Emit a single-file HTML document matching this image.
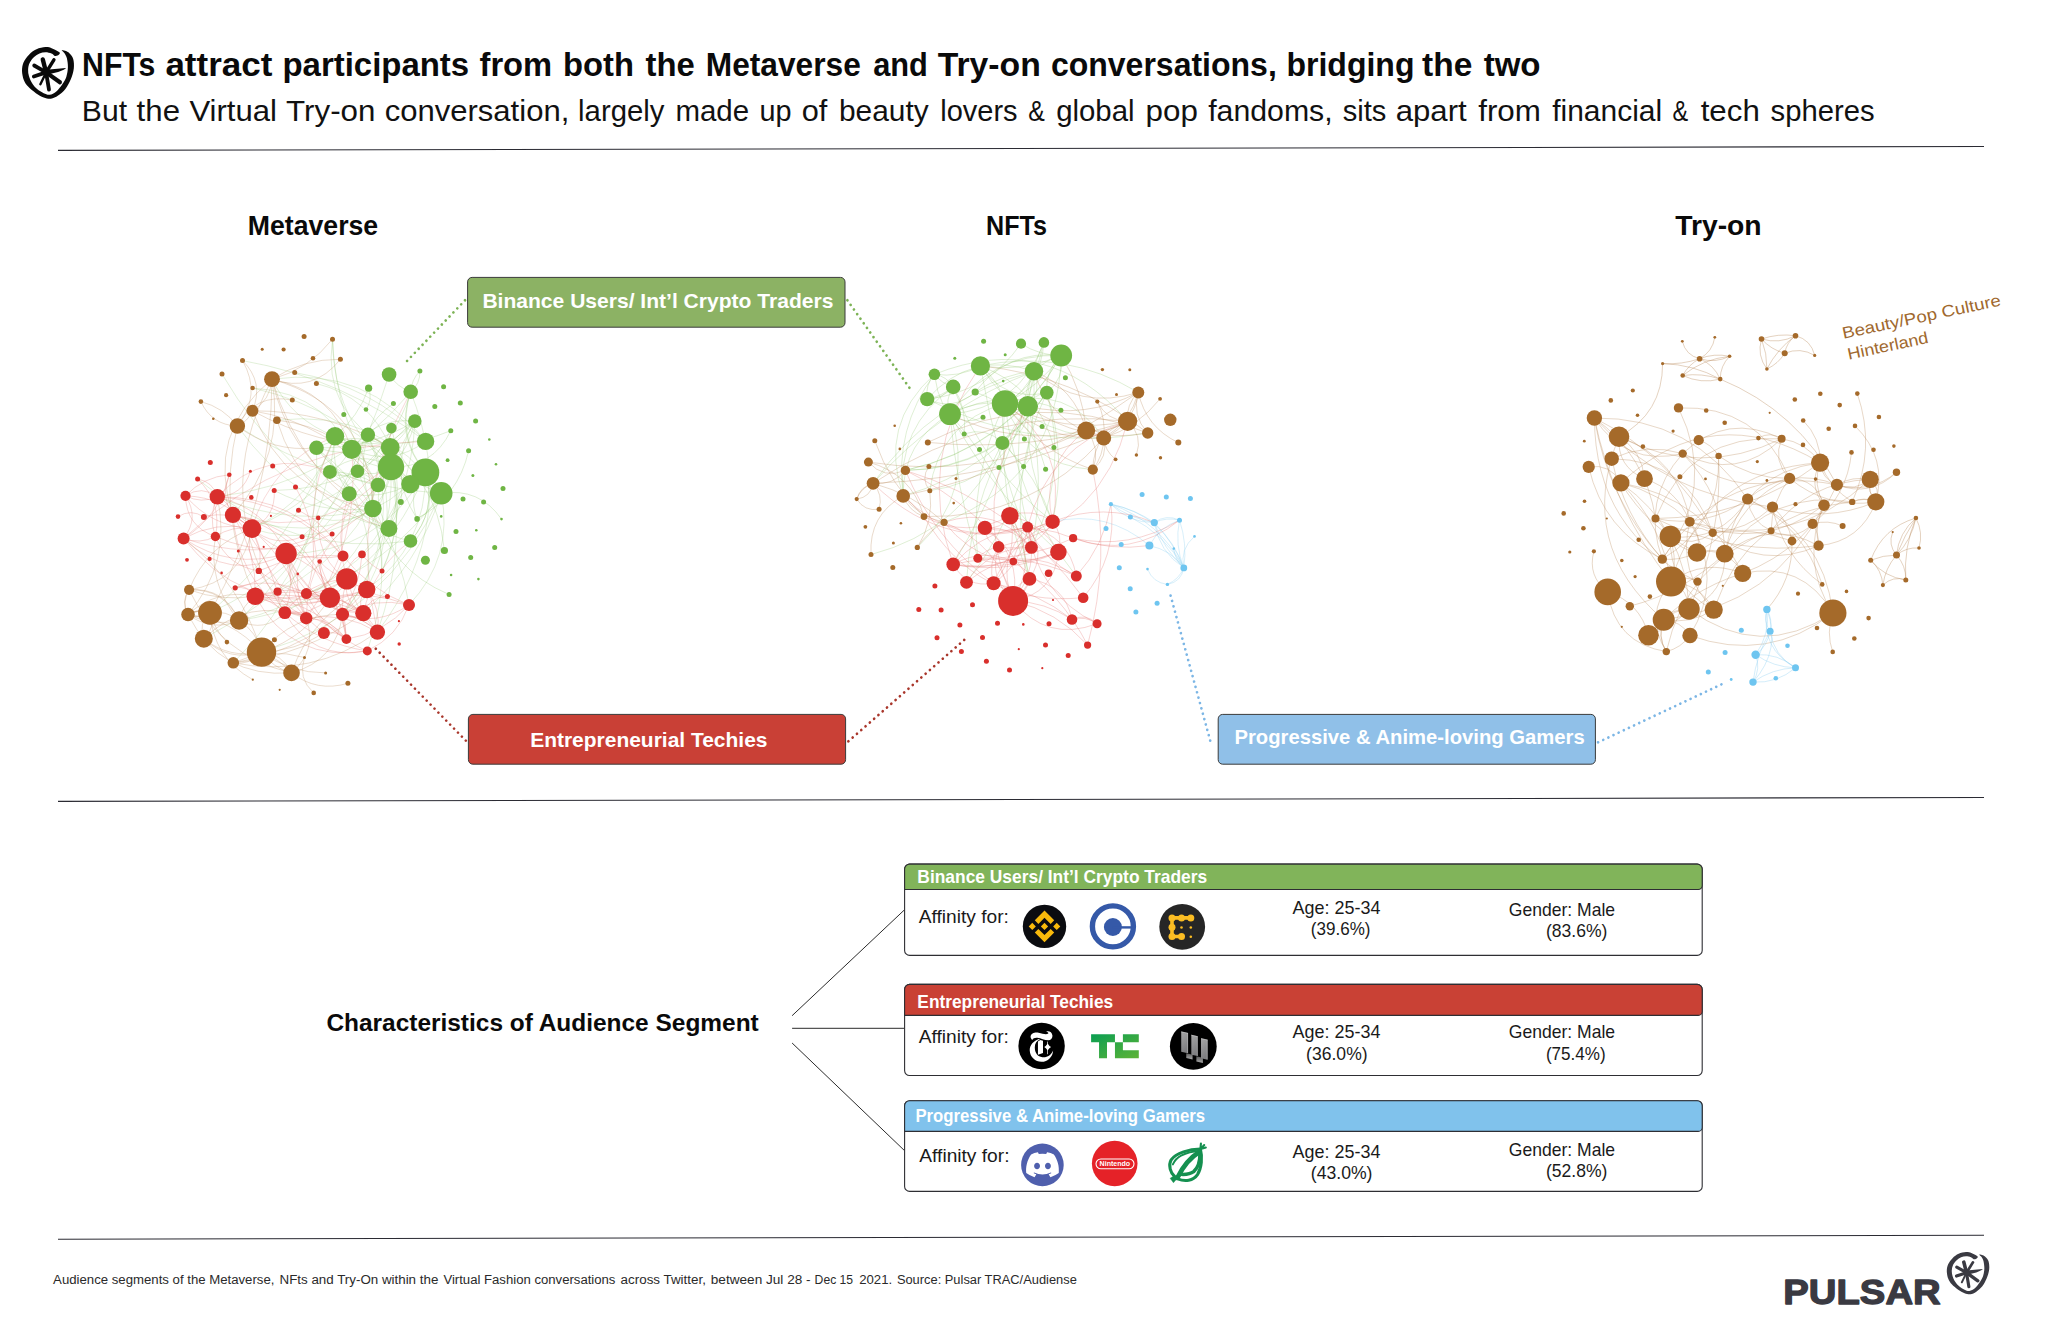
<!DOCTYPE html>
<html lang="en"><head><meta charset="utf-8"><title>NFTs attract participants from both the Metaverse and Try-on conversations</title>
<style>
html,body{margin:0;padding:0;background:#fff;}
body{width:2048px;height:1330px;font-family:"Liberation Sans",sans-serif;}
svg{display:block;font-family:"Liberation Sans",sans-serif;}
</style></head><body>
<svg width="2048" height="1330" viewBox="0 0 2048 1330">
<rect width="2048" height="1330" fill="#fff"/>
<g><path d="M59.0,52.0C57.8,51.1 54.4,49.2 52.1,48.4C49.9,47.5 48.1,47.0 45.5,47.1C42.9,47.3 39.2,48.0 36.5,49.3C33.7,50.5 31.1,52.5 29.0,54.7C26.8,56.9 24.7,59.8 23.5,62.5C22.4,65.2 22.0,68.0 22.0,70.9C22.1,73.8 22.8,77.3 23.8,79.9C24.8,82.5 26.0,84.4 28.1,86.6C30.1,88.8 33.3,91.4 35.9,93.2C38.5,95.0 41.2,96.5 43.7,97.4C46.2,98.3 48.5,99.1 50.9,98.8C53.3,98.5 55.7,97.2 58.1,95.6C60.5,93.9 63.2,91.7 65.4,89.0C67.5,86.3 69.4,82.7 70.8,79.3C72.2,75.9 73.4,71.9 73.8,68.5C74.2,65.1 73.9,61.4 73.2,58.9C72.5,56.4 70.8,54.8 69.6,53.5C68.4,52.2 67.3,51.6 66.0,51.1C64.7,50.5 62.0,50.0 61.7,50.3C61.5,50.7 63.6,51.8 64.5,53.2C65.3,54.5 66.3,55.9 66.9,58.3C67.4,60.6 68.0,64.2 67.9,67.3C67.8,70.4 67.2,74.1 66.3,76.9C65.3,79.7 64.0,81.7 62.3,84.2C60.7,86.6 58.4,89.6 56.3,91.4C54.2,93.1 51.8,94.4 49.7,94.7C47.6,95.0 45.8,94.1 43.7,93.2C41.6,92.2 39.0,90.6 37.1,89.0C35.2,87.4 33.6,85.7 32.3,83.5C30.9,81.4 29.7,78.6 29.0,76.3C28.3,74.0 28.0,71.9 28.1,69.7C28.2,67.5 28.6,65.2 29.6,63.1C30.6,61.0 32.4,58.7 34.1,57.1C35.7,55.5 37.6,54.3 39.5,53.5C41.4,52.7 43.5,52.3 45.5,52.3C47.5,52.3 50.0,52.9 51.5,53.5C53.1,54.1 53.8,55.5 54.8,55.9C55.8,56.2 56.7,55.9 57.5,55.6C58.3,55.2 59.4,54.4 59.6,53.8C59.9,53.2 60.3,52.9 59.0,52.0Z" fill="#0a0a0a"/><line x1="46.1" y1="72.4" x2="42.8" y2="59.5" stroke="#0a0a0a" stroke-width="4.4" stroke-linecap="round"/><line x1="46.1" y1="72.4" x2="53.9" y2="59.8" stroke="#0a0a0a" stroke-width="3.4" stroke-linecap="round"/><line x1="46.1" y1="72.4" x2="59.9" y2="82.3" stroke="#0a0a0a" stroke-width="4.2" stroke-linecap="round"/><line x1="46.1" y1="72.4" x2="49.0" y2="89.6" stroke="#0a0a0a" stroke-width="3.8" stroke-linecap="round"/><line x1="46.1" y1="72.4" x2="40.4" y2="84.2" stroke="#0a0a0a" stroke-width="2.4" stroke-linecap="round"/><line x1="46.1" y1="72.4" x2="33.8" y2="76.5" stroke="#0a0a0a" stroke-width="3.8" stroke-linecap="round"/><line x1="46.1" y1="72.4" x2="34.2" y2="65.5" stroke="#0a0a0a" stroke-width="3.8" stroke-linecap="round"/><path d="M46.1,69.7L66.0,68.0Q65.4,69.4 58.1,72.1L46.7,74.8Z" fill="#0a0a0a"/><circle cx="46.1" cy="72.4" r="3.4" fill="#0a0a0a"/></g>
<g transform="translate(1928.80,1213.47) scale(0.818)"><path d="M59.0,52.0C57.8,51.1 54.4,49.2 52.1,48.4C49.9,47.5 48.1,47.0 45.5,47.1C42.9,47.3 39.2,48.0 36.5,49.3C33.7,50.5 31.1,52.5 29.0,54.7C26.8,56.9 24.7,59.8 23.5,62.5C22.4,65.2 22.0,68.0 22.0,70.9C22.1,73.8 22.8,77.3 23.8,79.9C24.8,82.5 26.0,84.4 28.1,86.6C30.1,88.8 33.3,91.4 35.9,93.2C38.5,95.0 41.2,96.5 43.7,97.4C46.2,98.3 48.5,99.1 50.9,98.8C53.3,98.5 55.7,97.2 58.1,95.6C60.5,93.9 63.2,91.7 65.4,89.0C67.5,86.3 69.4,82.7 70.8,79.3C72.2,75.9 73.4,71.9 73.8,68.5C74.2,65.1 73.9,61.4 73.2,58.9C72.5,56.4 70.8,54.8 69.6,53.5C68.4,52.2 67.3,51.6 66.0,51.1C64.7,50.5 62.0,50.0 61.7,50.3C61.5,50.7 63.6,51.8 64.5,53.2C65.3,54.5 66.3,55.9 66.9,58.3C67.4,60.6 68.0,64.2 67.9,67.3C67.8,70.4 67.2,74.1 66.3,76.9C65.3,79.7 64.0,81.7 62.3,84.2C60.7,86.6 58.4,89.6 56.3,91.4C54.2,93.1 51.8,94.4 49.7,94.7C47.6,95.0 45.8,94.1 43.7,93.2C41.6,92.2 39.0,90.6 37.1,89.0C35.2,87.4 33.6,85.7 32.3,83.5C30.9,81.4 29.7,78.6 29.0,76.3C28.3,74.0 28.0,71.9 28.1,69.7C28.2,67.5 28.6,65.2 29.6,63.1C30.6,61.0 32.4,58.7 34.1,57.1C35.7,55.5 37.6,54.3 39.5,53.5C41.4,52.7 43.5,52.3 45.5,52.3C47.5,52.3 50.0,52.9 51.5,53.5C53.1,54.1 53.8,55.5 54.8,55.9C55.8,56.2 56.7,55.9 57.5,55.6C58.3,55.2 59.4,54.4 59.6,53.8C59.9,53.2 60.3,52.9 59.0,52.0Z" fill="#3a3a42"/><line x1="46.1" y1="72.4" x2="42.8" y2="59.5" stroke="#3a3a42" stroke-width="4.4" stroke-linecap="round"/><line x1="46.1" y1="72.4" x2="53.9" y2="59.8" stroke="#3a3a42" stroke-width="3.4" stroke-linecap="round"/><line x1="46.1" y1="72.4" x2="59.9" y2="82.3" stroke="#3a3a42" stroke-width="4.2" stroke-linecap="round"/><line x1="46.1" y1="72.4" x2="49.0" y2="89.6" stroke="#3a3a42" stroke-width="3.8" stroke-linecap="round"/><line x1="46.1" y1="72.4" x2="40.4" y2="84.2" stroke="#3a3a42" stroke-width="2.4" stroke-linecap="round"/><line x1="46.1" y1="72.4" x2="33.8" y2="76.5" stroke="#3a3a42" stroke-width="3.8" stroke-linecap="round"/><line x1="46.1" y1="72.4" x2="34.2" y2="65.5" stroke="#3a3a42" stroke-width="3.8" stroke-linecap="round"/><path d="M46.1,69.7L66.0,68.0Q65.4,69.4 58.1,72.1L46.7,74.8Z" fill="#3a3a42"/><circle cx="46.1" cy="72.4" r="3.4" fill="#3a3a42"/></g>
<text y="75.9" font-size="33" font-weight="700" fill="#0a0a0a"><tspan x="82.07" textLength="73.37" lengthAdjust="spacingAndGlyphs">NFTs</tspan> <tspan x="165.40" textLength="106.99" lengthAdjust="spacingAndGlyphs">attract</tspan> <tspan x="282.50" textLength="186.65" lengthAdjust="spacingAndGlyphs">participants</tspan> <tspan x="479.50" textLength="72.63" lengthAdjust="spacingAndGlyphs">from</tspan> <tspan x="563.11" textLength="70.93" lengthAdjust="spacingAndGlyphs">both</tspan> <tspan x="645.50" textLength="49.25" lengthAdjust="spacingAndGlyphs">the</tspan> <tspan x="705.78" textLength="155.06" lengthAdjust="spacingAndGlyphs">Metaverse</tspan> <tspan x="873.20" textLength="54.71" lengthAdjust="spacingAndGlyphs">and</tspan> <tspan x="937.70" textLength="103.08" lengthAdjust="spacingAndGlyphs">Try-on</tspan> <tspan x="1050.93" textLength="225.87" lengthAdjust="spacingAndGlyphs">conversations,</tspan> <tspan x="1286.46" textLength="128.03" lengthAdjust="spacingAndGlyphs">bridging</tspan> <tspan x="1422.10" textLength="50.26" lengthAdjust="spacingAndGlyphs">the</tspan> <tspan x="1483.70" textLength="56.86" lengthAdjust="spacingAndGlyphs">two</tspan></text>
<text y="120.6" font-size="29.5" font-weight="400" fill="#111"><tspan x="81.86" textLength="45.24" lengthAdjust="spacingAndGlyphs">But</tspan> <tspan x="136.60" textLength="43.43" lengthAdjust="spacingAndGlyphs">the</tspan> <tspan x="189.40" textLength="87.54" lengthAdjust="spacingAndGlyphs">Virtual</tspan> <tspan x="286.10" textLength="89.29" lengthAdjust="spacingAndGlyphs">Try-on</tspan> <tspan x="384.65" textLength="184.66" lengthAdjust="spacingAndGlyphs">conversation,</tspan> <tspan x="578.11" textLength="86.35" lengthAdjust="spacingAndGlyphs">largely</tspan> <tspan x="675.40" textLength="73.70" lengthAdjust="spacingAndGlyphs">made</tspan> <tspan x="759.42" textLength="32.07" lengthAdjust="spacingAndGlyphs">up</tspan> <tspan x="801.76" textLength="25.60" lengthAdjust="spacingAndGlyphs">of</tspan> <tspan x="838.99" textLength="89.66" lengthAdjust="spacingAndGlyphs">beauty</tspan> <tspan x="940.22" textLength="77.32" lengthAdjust="spacingAndGlyphs">lovers</tspan> <tspan x="1028.26" textLength="16.57" lengthAdjust="spacingAndGlyphs">&amp;</tspan> <tspan x="1056.20" textLength="78.34" lengthAdjust="spacingAndGlyphs">global</tspan> <tspan x="1145.54" textLength="52.29" lengthAdjust="spacingAndGlyphs">pop</tspan> <tspan x="1208.20" textLength="124.45" lengthAdjust="spacingAndGlyphs">fandoms,</tspan> <tspan x="1342.70" textLength="43.64" lengthAdjust="spacingAndGlyphs">sits</tspan> <tspan x="1395.74" textLength="70.96" lengthAdjust="spacingAndGlyphs">apart</tspan> <tspan x="1478.20" textLength="62.77" lengthAdjust="spacingAndGlyphs">from</tspan> <tspan x="1552.20" textLength="109.98" lengthAdjust="spacingAndGlyphs">financial</tspan> <tspan x="1672.51" textLength="15.64" lengthAdjust="spacingAndGlyphs">&amp;</tspan> <tspan x="1700.70" textLength="59.09" lengthAdjust="spacingAndGlyphs">tech</tspan> <tspan x="1770.60" textLength="104.04" lengthAdjust="spacingAndGlyphs">spheres</tspan></text>
<line x1="58" y1="150.4" x2="1984" y2="146.5" stroke="#2b2b33" stroke-width="1.1"/>
<line x1="58" y1="801.4" x2="1984" y2="797.5" stroke="#2b2b33" stroke-width="1.1"/>
<line x1="58" y1="1239.2" x2="1984" y2="1235.3" stroke="#2b2b33" stroke-width="1.1"/>
<text x="247.84" y="235.2" font-size="27.9" font-weight="700" fill="#0a0a0a" textLength="130.34" lengthAdjust="spacingAndGlyphs">Metaverse</text>
<text x="986.00" y="235.2" font-size="27.9" font-weight="700" fill="#0a0a0a" textLength="60.96" lengthAdjust="spacingAndGlyphs">NFTs</text>
<text x="1675.20" y="235.2" font-size="27.9" font-weight="700" fill="#0a0a0a" textLength="86.45" lengthAdjust="spacingAndGlyphs">Try-on</text>
<line x1="407.1" y1="360.9" x2="465.07" y2="300.23" stroke="#7db356" stroke-width="2.7" stroke-linecap="round" stroke-dasharray="0.01 5.5776"/>
<line x1="847.4" y1="300.3" x2="909.46" y2="387.78" stroke="#7db356" stroke-width="2.7" stroke-linecap="round" stroke-dasharray="0.01 5.6299"/>
<line x1="375.8" y1="648.7" x2="465.87" y2="740.67" stroke="#a9362b" stroke-width="2.7" stroke-linecap="round" stroke-dasharray="0.01 5.5826"/>
<line x1="848.4" y1="741.3" x2="964.28" y2="639.83" stroke="#a9362b" stroke-width="2.7" stroke-linecap="round" stroke-dasharray="0.01 5.6908"/>
<line x1="1170.6" y1="595.6" x2="1210.23" y2="740.70" stroke="#7cb6e5" stroke-width="2.7" stroke-linecap="round" stroke-dasharray="0.01 5.5570"/>
<line x1="1598.1" y1="742.3" x2="1721.49" y2="684.36" stroke="#7cb6e5" stroke-width="2.7" stroke-linecap="round" stroke-dasharray="0.01 5.6657"/>
<g>
<path d="M351.7,449.3Q375.1,416.9 414.8,421.1M372.9,508.5Q370.1,453.4 414.8,421.1M368.6,388.2Q358.4,416.8 335.0,436.2M425.4,472.4Q396.5,436.0 410.7,391.8M378.0,485.0Q369.6,475.4 357.5,471.3M368.6,388.2Q372.9,399.5 366.0,409.5M316.5,447.8Q369.7,449.3 414.8,421.1M329.9,471.9Q355.9,471.4 378.0,485.0M390.2,447.3Q393.3,457.0 391.0,467.0M357.5,471.3Q375.4,477.8 391.0,467.0M391.0,467.0Q403.1,498.2 388.9,528.6M349.2,493.7Q381.5,500.1 410.3,484.1M425.4,472.4Q406.9,493.1 417.1,518.9M357.5,471.3Q358.3,428.3 393.4,403.5M441.2,493.3Q400.2,473.0 391.4,428.1M444.4,550.5Q436.8,472.4 367.9,434.8M351.7,449.3Q363.4,446.1 367.9,434.8M410.7,391.8Q411.4,379.7 419.9,371.1M410.7,391.8Q394.8,436.3 425.4,472.4M425.6,441.4Q391.0,467.1 351.7,449.3M410.5,541.0Q437.1,510.9 425.4,472.4M410.7,391.8Q396.3,439.7 357.5,471.3M390.2,447.3Q396.8,482.2 372.9,508.5M391.0,467.0Q358.7,448.1 329.9,471.9M417.1,518.9Q458.4,496.6 468.6,450.8M410.3,484.1Q397.6,479.0 391.0,467.0M335.0,436.2Q393.9,454.4 450.8,430.7M372.9,508.5Q356.2,472.6 367.9,434.8M391.0,467.0Q366.6,468.7 351.7,449.3M410.3,484.1Q414.6,474.0 425.4,472.4M391.0,467.0Q366.7,481.1 372.9,508.5M390.2,447.3Q353.2,429.5 316.5,447.8M410.7,391.8Q396.9,386.9 389.1,374.5M414.8,421.1Q409.6,447.5 391.0,467.0M425.4,472.4Q437.1,510.9 410.5,541.0M417.1,518.9Q433.2,509.9 441.2,493.3M410.5,541.0Q368.3,532.3 349.2,493.7M372.9,508.5Q390.3,569.9 449.1,594.5M316.5,447.8Q374.1,465.4 414.8,421.1M391.0,467.0Q405.0,470.6 410.3,484.1" fill="none" stroke="#8cc468" stroke-opacity="0.4" stroke-width="0.7"/>
<path d="M388.9,528.6Q392.6,503.0 410.3,484.1M410.3,484.1Q389.7,471.5 390.2,447.3M378.0,485.0Q339.2,479.6 316.5,447.8M351.7,449.3Q346.8,438.4 335.0,436.2M357.5,471.3Q343.9,480.6 329.9,471.9M441.2,493.3Q479.4,487.4 501.5,519.1M335.0,436.2Q347.4,437.6 351.7,449.3M441.2,493.3Q436.9,480.2 425.4,472.4M391.0,467.0Q366.7,497.0 388.9,528.6M410.7,391.8Q420.3,383.7 419.9,371.1M367.9,434.8Q390.9,442.7 391.0,467.0M391.0,467.0Q390.4,480.3 378.0,485.0M349.2,493.7Q329.4,468.1 335.0,436.2M391.0,467.0Q432.7,468.3 450.8,430.7M414.8,421.1Q385.9,470.7 417.1,518.9M390.2,447.3Q414.6,488.4 388.9,528.6" fill="none" stroke="#8cc468" stroke-opacity="0.4" stroke-width="0.7"/>
<path d="M410.5,541.0Q290.0,558.2 197.6,479.0M391.0,467.0Q371.4,564.2 284.8,612.6M329.9,471.9Q384.6,506.5 382.0,571.1M335.0,436.2Q325.6,521.1 277.6,591.7M441.2,493.3Q418.9,564.0 363.3,613.2M410.3,484.1Q330.8,552.3 232.9,514.9M335.0,436.2Q294.6,540.1 210.0,612.8M367.9,434.8Q407.1,512.5 366.7,589.5M316.5,447.8Q379.9,505.1 366.7,589.5M410.7,391.8Q461.7,521.3 377.4,632.1M357.5,471.3Q400.7,559.0 367.3,650.9M349.2,493.7Q296.7,573.2 210.0,612.8M391.4,428.1Q379.8,541.4 277.6,591.7M441.2,493.3Q454.1,557.5 409.0,604.9M391.4,428.1Q364.0,490.7 298.5,510.2M414.8,421.1Q361.4,489.9 274.2,490.5M425.4,472.4Q426.5,546.2 366.7,589.5M372.9,508.5Q320.8,514.7 274.2,490.5M410.7,391.8Q335.1,483.2 217.3,496.7M389.1,374.5Q346.4,517.2 239.1,620.5M316.5,447.8Q324.2,574.4 233.3,662.8M335.0,436.2Q313.0,500.0 251.9,528.6M441.2,493.3Q390.3,565.6 306.4,593.6M425.4,472.4Q374.8,599.9 239.1,620.5M388.9,528.6Q328.4,598.0 239.1,620.5M391.0,467.0Q406.3,520.8 382.0,571.1M316.5,447.8Q393.7,508.1 409.0,604.9M367.9,434.8Q349.5,495.1 302.1,536.7M441.2,493.3Q388.8,615.1 261.5,652.1M351.7,449.3Q313.3,503.4 251.9,528.6M391.0,467.0Q406.8,551.4 377.4,632.1M372.9,508.5Q347.8,526.3 318.2,517.9M367.9,434.8Q408.9,532.1 342.5,614.3M390.2,447.3Q408.9,510.7 382.0,571.1M414.8,421.1Q412.5,497.3 362.0,554.4M391.0,467.0Q394.6,549.8 342.5,614.3M425.4,472.4Q379.5,553.8 286.1,553.5M414.8,421.1Q344.4,563.9 203.8,638.7M372.9,508.5Q293.1,528.9 217.3,496.7M372.9,508.5Q317.5,549.5 251.9,528.6" fill="none" stroke="#8cc468" stroke-opacity="0.36" stroke-width="0.7"/>
<path d="M441.2,493.3Q380.7,408.2 276.9,420.2M390.2,447.3Q369.5,396.7 316.4,383.5M378.0,485.0Q335.6,418.2 332.5,339.2M390.2,447.3Q322.0,414.3 332.5,339.2M441.2,493.3Q334.1,453.5 332.5,339.2M425.6,441.4Q344.0,378.5 242.5,360.6M388.9,528.6Q281.7,476.9 222.0,374.0M388.9,528.6Q293.9,505.8 237.4,426.0M335.0,436.2Q292.1,420.3 272.0,379.2M425.6,441.4Q371.6,385.2 294.7,372.6M441.2,493.3Q330.6,486.1 237.4,426.0M410.3,484.1Q347.7,409.4 252.6,388.0M425.6,441.4Q366.9,365.6 272.0,379.2M357.5,471.3Q334.3,392.8 252.6,388.0" fill="none" stroke="#8cc468" stroke-opacity="0.36" stroke-width="0.7"/>
<path d="M409.0,604.9Q397.8,636.6 367.3,650.9M346.8,578.9Q330.9,573.8 319.7,561.5M185.5,495.8Q186.3,526.6 215.4,536.5M251.9,528.6Q276.0,517.1 274.2,490.5M255.3,596.2Q292.8,587.1 329.9,597.7M251.9,528.6Q215.9,520.6 183.6,538.4M346.4,639.1Q384.0,633.5 409.0,604.9M215.4,536.5Q208.1,516.2 217.3,496.7M366.7,589.5Q312.2,612.0 255.3,596.2M232.9,514.9Q256.9,552.0 255.3,596.2M258.8,570.9Q227.3,566.0 215.4,536.5M255.3,596.2Q247.9,585.7 235.2,587.8M306.2,618.2Q296.9,610.1 284.8,612.6M284.8,612.6Q272.2,600.5 255.3,596.2M284.8,612.6Q296.4,612.1 306.2,618.2M363.3,613.2Q369.5,596.4 387.4,596.6M232.9,514.9Q219.6,495.8 229.3,474.7M258.8,570.9Q298.9,552.2 343.0,555.9M329.9,597.7Q311.0,616.3 284.8,612.6M366.7,589.5Q316.5,571.3 318.2,517.9M329.9,597.7Q307.2,526.1 232.9,514.9M342.5,614.3Q363.2,616.9 377.4,632.1M183.6,538.4Q231.2,570.5 286.1,553.5M232.9,514.9Q289.7,552.3 306.2,618.2M329.9,597.7Q370.5,590.2 409.0,604.9M343.0,555.9Q336.0,585.7 306.4,593.6M185.5,495.8Q203.4,476.9 229.3,474.7M409.0,604.9Q373.9,596.6 342.5,614.3M366.7,589.5Q337.2,600.6 306.4,593.6M286.1,553.5Q265.5,508.4 217.3,496.7M366.7,589.5Q356.2,600.1 363.3,613.2M367.3,650.9Q291.7,663.7 255.3,596.2M217.3,496.7Q213.0,481.7 197.6,479.0M346.4,639.1Q344.8,576.2 286.1,553.5M377.4,632.1Q363.2,616.9 342.5,614.3M258.8,570.9Q266.4,533.4 232.9,514.9M346.8,578.9Q308.1,581.6 284.8,612.6M286.1,553.5Q288.4,588.3 306.2,618.2M363.3,613.2Q303.2,611.2 286.1,553.5M377.4,632.1Q381.3,608.5 366.7,589.5M258.8,570.9Q275.9,601.2 306.2,618.2M306.2,618.2Q344.5,611.4 377.4,632.1M363.3,613.2Q342.6,602.0 346.8,578.9M346.4,639.1Q309.5,599.2 255.3,596.2M342.5,614.3Q327.1,599.3 306.4,593.6M323.9,633.1Q336.7,630.2 346.4,639.1M217.3,496.7Q294.2,496.5 343.0,555.9M329.9,597.7Q320.0,581.0 319.7,561.5M251.9,528.6Q232.1,525.5 215.4,536.5M284.8,612.6Q320.6,614.3 346.4,639.1M286.1,553.5Q268.3,582.0 235.2,587.8M329.9,597.7Q302.1,532.0 232.9,514.9M306.4,593.6Q272.0,576.0 235.2,587.8M346.8,578.9Q304.2,604.3 255.3,596.2M343.0,555.9Q329.1,524.9 298.5,510.2M342.5,614.3Q359.8,586.8 362.0,554.4M258.8,570.9Q289.7,596.7 329.9,597.7M343.0,555.9Q291.5,502.1 217.3,496.7M203.9,517.0Q231.2,509.2 251.9,528.6M232.9,514.9Q237.4,575.2 284.8,612.6M346.8,578.9Q346.3,561.6 362.0,554.4M203.9,517.0Q191.1,508.5 178.0,516.6M346.4,639.1Q343.9,616.1 329.9,597.7M346.4,639.1Q337.7,608.9 346.8,578.9M251.9,528.6Q272.4,591.5 323.9,633.1M232.9,514.9Q264.5,547.9 277.6,591.7M183.6,538.4Q239.7,610.2 329.9,597.7M346.4,639.1Q331.7,618.3 306.2,618.2M409.0,604.9Q369.2,589.5 343.0,555.9M258.8,570.9Q243.7,551.7 251.9,528.6M306.4,593.6Q325.8,634.0 367.3,650.9M329.9,597.7Q362.0,603.3 377.4,632.1M306.4,593.6Q325.1,537.9 295.5,487.1M217.3,496.7Q201.7,485.1 185.5,495.8M232.9,514.9Q229.3,502.2 217.3,496.7M183.6,538.4Q219.7,516.1 229.3,474.7M362.0,554.4Q370.0,565.2 382.0,571.1M284.8,612.6Q277.6,603.4 277.6,591.7M286.1,553.5Q296.1,583.3 284.8,612.6M286.1,553.5Q305.3,592.3 342.5,614.3M255.3,596.2Q313.5,578.1 363.3,613.2M346.4,639.1Q297.2,609.7 286.1,553.5M185.5,495.8Q226.2,497.1 251.9,528.6M251.9,528.6Q274.5,548.0 302.1,536.7M284.8,612.6Q312.2,661.6 367.3,650.9" fill="none" stroke="#e36b66" stroke-opacity="0.4" stroke-width="0.7"/>
<path d="M251.9,528.6Q290.4,565.6 343.0,555.9M185.5,495.8Q211.5,526.7 251.9,528.6M367.3,650.9Q320.4,644.0 284.8,612.6M286.1,553.5Q229.3,583.7 183.6,538.4M255.3,596.2Q292.3,613.3 329.9,597.7M363.3,613.2Q311.6,590.4 255.3,596.2M215.4,536.5Q274.4,562.7 332.1,533.9M346.8,578.9Q355.3,609.4 377.4,632.1M183.6,538.4Q199.9,544.6 215.4,536.5M217.3,496.7Q243.0,495.9 250.4,471.3M215.4,536.5Q222.5,502.8 197.6,479.0M286.1,553.5Q308.0,605.0 363.3,613.2M306.2,618.2Q297.5,607.7 284.8,612.6M185.5,495.8Q199.8,517.8 183.6,538.4M185.5,495.8Q201.2,504.0 217.3,496.7M346.4,639.1Q345.8,615.3 329.9,597.7M363.3,613.2Q328.6,598.2 319.7,561.5M363.3,613.2Q353.3,620.7 342.5,614.3M329.9,597.7Q342.2,591.7 346.8,578.9M342.5,614.3Q378.1,626.4 409.0,604.9M306.2,618.2Q295.9,597.2 297.7,573.9M366.7,589.5Q375.9,596.4 387.4,596.6" fill="none" stroke="#e36b66" stroke-opacity="0.4" stroke-width="0.7"/>
<path d="M363.3,613.2Q373.3,568.2 410.5,541.0M183.6,538.4Q314.2,580.9 391.0,467.0M251.9,528.6Q271.3,462.5 335.0,436.2M306.2,618.2Q307.4,543.8 372.9,508.5M306.2,618.2Q361.5,542.5 351.7,449.3M346.8,578.9Q333.4,535.9 349.2,493.7M183.6,538.4Q285.9,443.2 425.6,441.4M343.0,555.9Q333.4,493.3 391.0,467.0M329.9,597.7Q293.6,515.7 335.0,436.2M232.9,514.9Q327.9,543.6 391.0,467.0M377.4,632.1Q346.9,505.4 410.7,391.8M217.3,496.7Q265.3,446.5 329.9,471.9" fill="none" stroke="#e36b66" stroke-opacity="0.36" stroke-width="0.7"/>
<path d="M291.5,672.9Q317.7,650.6 306.2,618.2M261.5,652.1Q228.7,662.3 203.8,638.7M188.0,614.5Q198.5,607.5 210.0,612.8M189.1,589.8Q221.4,601.7 255.3,596.2M189.1,589.8Q225.1,587.3 239.1,620.5M233.3,662.8Q312.0,678.7 377.4,632.1M188.0,614.5Q232.0,562.9 217.3,496.7M189.1,589.8Q206.9,545.2 251.9,528.6M261.5,652.1Q241.0,582.6 183.6,538.4M239.1,620.5Q242.3,605.1 255.3,596.2M210.0,612.8Q198.6,609.0 188.0,614.5M189.1,589.8Q224.2,588.7 239.1,620.5M239.1,620.5Q264.8,633.2 284.8,612.6M291.5,672.9Q336.5,660.6 342.5,614.3M203.8,638.7Q248.4,595.6 306.2,618.2M189.1,589.8Q181.5,601.8 188.0,614.5M188.0,614.5Q198.6,608.9 210.0,612.8M188.0,614.5Q217.0,588.2 255.3,596.2M188.0,614.5Q180.4,601.8 189.1,589.8M210.0,612.8Q214.6,629.7 226.9,642.1M210.0,612.8Q199.5,619.9 188.0,614.5M291.5,672.9Q220.2,678.3 188.0,614.5M261.5,652.1Q250.4,665.4 233.3,662.8M233.3,662.8Q313.0,649.7 366.7,589.5M291.5,672.9Q311.3,615.2 366.7,589.5M210.0,612.8Q216.1,627.9 203.8,638.7M291.5,672.9Q282.6,653.7 261.5,652.1M188.0,614.5Q199.4,619.4 210.0,612.8M261.5,652.1Q305.8,637.5 329.9,597.7M261.5,652.1Q293.2,614.2 342.5,614.3M189.1,589.8Q220.3,656.0 291.5,672.9M261.5,652.1Q229.4,659.2 203.8,638.7M233.3,662.8Q305.1,655.9 363.3,613.2M239.1,620.5Q207.5,584.1 215.4,536.5M189.1,589.8Q242.5,581.8 251.9,528.6M261.5,652.1Q295.2,651.0 323.9,633.1" fill="none" stroke="#b98a5a" stroke-opacity="0.42" stroke-width="0.7"/>
<path d="M261.5,652.1Q279.1,658.7 291.5,672.9M313.7,692.9Q297.4,678.3 304.5,657.5M188.0,614.5Q232.1,619.0 261.5,652.1M261.5,652.1Q272.8,667.8 291.5,672.9M261.5,652.1Q256.8,631.7 239.1,620.5M304.5,657.5Q267.9,646.9 233.3,662.8M210.0,612.8Q198.6,608.1 188.0,614.5M239.1,620.5Q226.3,610.1 210.0,612.8M261.5,652.1Q290.1,673.0 325.6,672.9M188.0,614.5Q211.8,632.1 239.1,620.5M347.9,683.3Q317.0,692.5 291.5,672.9M210.0,612.8Q198.0,623.6 203.8,638.7M210.0,612.8Q213.3,657.8 252.8,679.7M239.1,620.5Q212.5,626.7 188.0,614.5" fill="none" stroke="#b98a5a" stroke-opacity="0.42" stroke-width="0.7"/>
<path d="M272.0,379.2Q287.6,451.9 349.2,493.7M237.4,426.0Q216.1,514.3 255.3,596.2M276.9,420.2Q343.9,427.0 378.0,485.0M272.0,379.2Q332.2,391.2 351.7,449.3M272.0,379.2Q300.7,477.2 388.9,528.6M252.4,410.8Q329.9,423.0 378.0,485.0M272.0,379.2Q285.5,456.6 232.9,514.9M272.0,379.2Q207.5,499.8 284.8,612.6M272.0,379.2Q205.4,433.5 232.9,514.9M252.4,410.8Q316.8,446.0 390.2,447.3M276.9,420.2Q302.9,505.4 388.9,528.6M272.0,379.2Q271.7,504.1 210.0,612.8M252.4,410.8Q326.2,410.4 390.2,447.3M272.0,379.2Q369.6,407.1 372.9,508.5M252.4,410.8Q284.6,494.2 372.9,508.5M237.4,426.0Q272.6,452.8 316.5,447.8" fill="none" stroke="#b98a5a" stroke-opacity="0.42" stroke-width="0.7"/>
<path d="M200.9,401.6Q211.6,425.1 237.4,426.0M252.4,410.8Q264.5,382.3 242.5,360.6M332.5,339.2Q308.9,369.2 272.0,379.2M340.4,359.3Q303.2,358.8 272.0,379.2M252.4,410.8Q270.5,400.2 272.0,379.2M292.3,400.1Q255.2,392.6 237.4,426.0M200.9,401.6Q223.5,407.4 237.4,426.0M242.5,360.6Q262.1,395.0 237.4,426.0M237.4,426.0Q248.0,421.5 252.4,410.8M272.0,379.2Q313.3,393.6 340.4,359.3" fill="none" stroke="#b98a5a" stroke-opacity="0.42" stroke-width="0.7"/>
<g fill="#a56a2a"><circle cx="304.1" cy="336.4" r="2.5"/><circle cx="332.5" cy="339.2" r="2.5"/><circle cx="262.2" cy="349.3" r="1.5"/><circle cx="283.6" cy="349.5" r="2.1"/><circle cx="242.5" cy="360.6" r="2.5"/><circle cx="313.0" cy="358.3" r="2.3"/><circle cx="340.4" cy="359.3" r="2.5"/><circle cx="222" cy="374" r="2.5"/><circle cx="272" cy="379.2" r="7.9"/><circle cx="294.7" cy="372.6" r="2.5"/><circle cx="316.4" cy="383.5" r="2.5"/><circle cx="252.6" cy="388" r="2.3"/><circle cx="226.1" cy="395.2" r="2.1"/><circle cx="200.9" cy="401.6" r="2.3"/><circle cx="292.3" cy="400.1" r="2.5"/><circle cx="252.4" cy="410.8" r="6.0"/><circle cx="213.3" cy="418.7" r="1.3"/><circle cx="276.9" cy="420.2" r="3.8"/><circle cx="237.4" cy="426" r="7.7"/><circle cx="189.1" cy="589.8" r="5.1"/><circle cx="188" cy="614.5" r="6.8"/><circle cx="210" cy="612.8" r="11.9"/><circle cx="239.1" cy="620.5" r="9.2"/><circle cx="203.8" cy="638.7" r="9.0"/><circle cx="226.9" cy="642.1" r="2.3"/><circle cx="274.4" cy="639.8" r="2.5"/><circle cx="261.5" cy="652.1" r="14.7"/><circle cx="233.3" cy="662.8" r="5.8"/><circle cx="291.5" cy="672.9" r="8.3"/><circle cx="304.5" cy="657.5" r="1.5"/><circle cx="325.6" cy="672.9" r="1.5"/><circle cx="252.8" cy="679.7" r="1.1"/><circle cx="347.9" cy="683.3" r="2.5"/><circle cx="279.7" cy="689.8" r="1.1"/><circle cx="313.7" cy="692.9" r="2.3"/></g>
<g fill="#6fb544"><circle cx="389.1" cy="374.5" r="7.3"/><circle cx="419.9" cy="371.1" r="2.5"/><circle cx="368.6" cy="388.2" r="3.6"/><circle cx="410.7" cy="391.8" r="7.3"/><circle cx="443.6" cy="386.7" r="2.5"/><circle cx="393.4" cy="403.5" r="2.5"/><circle cx="366" cy="409.5" r="2.3"/><circle cx="343.8" cy="414.4" r="2.5"/><circle cx="434.8" cy="406.5" r="2.5"/><circle cx="460.3" cy="403.1" r="2.5"/><circle cx="414.8" cy="421.1" r="6.8"/><circle cx="475.6" cy="420.9" r="2.5"/><circle cx="391.4" cy="428.1" r="5.3"/><circle cx="450.8" cy="430.7" r="2.5"/><circle cx="335" cy="436.2" r="9.2"/><circle cx="367.9" cy="434.8" r="7.2"/><circle cx="425.6" cy="441.4" r="8.7"/><circle cx="489.3" cy="439.5" r="1.3"/><circle cx="316.5" cy="447.8" r="7.3"/><circle cx="351.7" cy="449.3" r="9.6"/><circle cx="390.2" cy="447.3" r="9.4"/><circle cx="468.6" cy="450.8" r="2.5"/><circle cx="447.6" cy="460.2" r="1.9"/><circle cx="496" cy="464.2" r="1.3"/><circle cx="391" cy="467" r="13.2"/><circle cx="425.4" cy="472.4" r="13.9"/><circle cx="329.9" cy="471.9" r="7.0"/><circle cx="357.5" cy="471.3" r="6.8"/><circle cx="472.9" cy="475.6" r="1.5"/><circle cx="378" cy="485" r="7.3"/><circle cx="410.3" cy="484.1" r="9.2"/><circle cx="441.2" cy="493.3" r="11.3"/><circle cx="503" cy="488.6" r="2.5"/><circle cx="349.2" cy="493.7" r="7.5"/><circle cx="463" cy="499.1" r="2.5"/><circle cx="483.6" cy="502" r="2.5"/><circle cx="400.8" cy="502" r="3.0"/><circle cx="372.9" cy="508.5" r="8.8"/><circle cx="417.1" cy="518.9" r="2.8"/><circle cx="441.2" cy="516.4" r="1.3"/><circle cx="501.5" cy="519.1" r="1.3"/><circle cx="388.9" cy="528.6" r="8.5"/><circle cx="456" cy="531.5" r="2.5"/><circle cx="476.3" cy="530.3" r="1.3"/><circle cx="410.5" cy="541" r="6.8"/><circle cx="444.4" cy="550.5" r="3.6"/><circle cx="494.7" cy="547.4" r="2.5"/><circle cx="425.4" cy="560.2" r="4.5"/><circle cx="470.7" cy="557.6" r="2.5"/><circle cx="451.1" cy="575" r="1.3"/><circle cx="478.4" cy="579.1" r="1.3"/><circle cx="449.1" cy="594.5" r="2.5"/></g>
<g fill="#d92f2c"><circle cx="210.3" cy="462.5" r="2.5"/><circle cx="272.7" cy="466.1" r="2.5"/><circle cx="250.4" cy="471.3" r="1.5"/><circle cx="229.3" cy="474.7" r="2.3"/><circle cx="197.6" cy="479" r="2.5"/><circle cx="295.5" cy="487.1" r="2.5"/><circle cx="274.2" cy="490.5" r="2.5"/><circle cx="185.5" cy="495.8" r="5.1"/><circle cx="217.3" cy="496.7" r="7.7"/><circle cx="251.3" cy="497.4" r="2.3"/><circle cx="298.5" cy="510.2" r="2.5"/><circle cx="232.9" cy="514.9" r="8.1"/><circle cx="178" cy="516.6" r="2.3"/><circle cx="203.9" cy="517" r="3.0"/><circle cx="270.9" cy="515.9" r="1.1"/><circle cx="318.2" cy="517.9" r="2.3"/><circle cx="251.9" cy="528.6" r="9.4"/><circle cx="332.1" cy="533.9" r="2.5"/><circle cx="215.4" cy="536.5" r="4.7"/><circle cx="183.6" cy="538.4" r="6.0"/><circle cx="302.1" cy="536.7" r="2.5"/><circle cx="263.7" cy="546.9" r="1.1"/><circle cx="238.3" cy="551" r="1.5"/><circle cx="286.1" cy="553.5" r="10.7"/><circle cx="343" cy="555.9" r="5.5"/><circle cx="362" cy="554.4" r="3.8"/><circle cx="187" cy="559.8" r="1.9"/><circle cx="209.6" cy="558.9" r="2.1"/><circle cx="319.7" cy="561.5" r="2.3"/><circle cx="258.8" cy="570.9" r="3.2"/><circle cx="221.6" cy="572.9" r="1.3"/><circle cx="297.7" cy="573.9" r="1.3"/><circle cx="382" cy="571.1" r="2.5"/><circle cx="346.8" cy="578.9" r="10.7"/><circle cx="235.2" cy="587.8" r="2.6"/><circle cx="366.7" cy="589.5" r="8.7"/><circle cx="277.6" cy="591.7" r="4.1"/><circle cx="306.4" cy="593.6" r="5.5"/><circle cx="255.3" cy="596.2" r="8.8"/><circle cx="329.9" cy="597.7" r="10.2"/><circle cx="387.4" cy="596.6" r="2.5"/><circle cx="409" cy="604.9" r="6.0"/><circle cx="284.8" cy="612.6" r="6.4"/><circle cx="306.2" cy="618.2" r="6.2"/><circle cx="342.5" cy="614.3" r="6.6"/><circle cx="363.3" cy="613.2" r="8.1"/><circle cx="398.9" cy="621.2" r="1.1"/><circle cx="377.4" cy="632.1" r="7.7"/><circle cx="323.9" cy="633.1" r="6.0"/><circle cx="346.4" cy="639.1" r="4.9"/><circle cx="399.2" cy="644" r="1.7"/><circle cx="367.3" cy="650.9" r="4.5"/></g>
</g>
<g>
<path d="M953.2,386.9Q941.7,396.2 927.2,399.1M953.2,386.9Q944.3,399.7 950.0,414.2M1027.8,406.3Q1033.6,394.3 1046.8,392.6M1061.2,355.5Q1039.4,355.5 1021.0,343.7M1034.0,371.3Q1045.6,359.9 1061.2,355.5M1061.2,355.5Q1039.4,386.9 1005.0,403.5M1005.0,403.5Q1041.2,383.6 1043.9,342.4M980.4,365.9Q1038.3,387.7 1053.9,447.6M950.0,414.2Q965.6,425.8 983.0,417.2M1061.2,355.5Q1022.4,372.7 980.4,365.9M1002.4,442.9Q1008.4,456.2 999.0,467.4M1027.8,406.3Q1015.9,409.3 1005.0,403.5M1061.2,355.5Q988.7,352.8 950.0,414.2M1034.0,371.3Q1002.0,374.3 975.2,392.0M950.0,414.2Q1019.8,408.1 1043.9,342.4M1027.8,406.3Q1017.1,399.3 1005.0,403.5M927.2,399.1Q986.7,392.7 1021.0,343.7M1046.8,392.6Q1045.0,370.6 1061.2,355.5M1046.8,392.6Q1004.4,402.1 980.4,365.9M927.2,399.1Q925.0,385.0 934.4,374.3M1034.0,371.3Q1026.2,388.0 1027.8,406.3M975.2,392.0Q953.5,411.3 927.2,399.1M1002.4,442.9Q1028.6,434.0 1027.8,406.3M927.2,399.1Q971.4,349.7 1034.0,371.3M975.2,392.0Q1007.8,349.2 1061.2,355.5M975.2,392.0Q1030.9,411.9 1045.6,469.2M927.2,399.1Q942.9,398.8 953.2,386.9M950.0,414.2Q1004.5,386.7 1060.9,410.2M934.4,374.3Q946.7,376.3 953.2,386.9M934.4,374.3Q938.5,409.5 964.2,433.9" fill="none" stroke="#8cc468" stroke-opacity="0.42" stroke-width="0.7"/>
<path d="M1061.2,355.5Q1065.1,378.4 1046.8,392.6M934.4,374.3Q941.8,383.6 953.2,386.9M1005.0,403.5Q975.7,399.8 950.0,414.2M1005.0,403.5Q1025.3,392.6 1034.0,371.3M953.2,386.9Q967.2,408.4 964.2,433.9M1034.0,371.3Q1042.6,390.9 1027.8,406.3M1005.0,403.5Q994.9,440.8 1023.6,466.6M980.4,365.9Q958.8,377.9 934.4,374.3M980.4,365.9Q999.1,380.5 1005.0,403.5M1002.4,442.9Q986.1,426.5 964.2,433.9" fill="none" stroke="#8cc468" stroke-opacity="0.42" stroke-width="0.7"/>
<path d="M1034.0,371.3Q1015.2,450.0 1052.6,521.7M980.4,365.9Q995.9,459.5 1031.4,547.4M950.0,414.2Q992.7,492.2 1058.4,552.1M953.2,386.9Q984.0,468.3 1052.6,521.7M1043.9,342.4Q1002.9,431.8 1027.6,527.1M950.0,414.2Q1014.1,484.8 1029.5,578.9M1005.0,403.5Q996.5,494.1 1029.5,578.9M1034.0,371.3Q1039.1,489.2 966.5,582.3M1027.8,406.3Q971.7,485.4 966.5,582.3M950.0,414.2Q956.3,487.7 977.8,558.3M1046.8,392.6Q1004.4,482.6 1029.5,578.9M1027.8,406.3Q1047.0,476.4 1031.4,547.4M1043.9,342.4Q1015.0,460.1 953.2,564.4M1046.8,392.6Q1067.3,456.4 1052.6,521.7M1005.0,403.5Q968.8,476.9 977.8,558.3M1046.8,392.6Q1068.9,473.0 1031.4,547.4M1002.4,442.9Q1037.5,475.9 1052.6,521.7M1005.0,403.5Q1015.5,500.2 1076.3,576.1" fill="none" stroke="#8cc468" stroke-opacity="0.4" stroke-width="0.7"/>
<path d="M1034.0,371.3Q939.7,407.4 873.1,483.3M950.0,414.2Q902.5,441.2 903.2,495.9M1061.2,355.5Q1009.1,447.9 905.4,470.4M1002.4,442.9Q963.5,530.3 871.0,554.6M1061.2,355.5Q1057.8,477.6 944.1,522.3M1046.8,392.6Q993.5,469.9 903.2,495.9M934.4,374.3Q878.3,424.7 903.2,495.9M1046.8,392.6Q996.5,468.6 905.4,470.4M1027.8,406.3Q1006.1,480.2 929.8,490.7M1034.0,371.3Q932.7,397.4 873.1,483.3M1005.0,403.5Q938.7,422.3 929.8,490.7M934.4,374.3Q894.1,428.8 903.2,495.9M953.2,386.9Q896.4,426.8 903.2,495.9M1061.2,355.5Q1008.6,447.2 905.4,470.4M950.0,414.2Q976.8,491.4 917.3,547.4M1046.8,392.6Q997.2,469.9 905.4,470.4" fill="none" stroke="#8cc468" stroke-opacity="0.4" stroke-width="0.7"/>
<path d="M980.4,365.9Q1064.5,348.2 1138.3,392.4M927.2,399.1Q1031.7,453.2 1147.7,433.0M934.4,374.3Q1047.7,329.2 1127.6,421.3M1005.0,403.5Q1067.3,383.8 1103.7,438.0M1005.0,403.5Q1027.4,465.1 1092.8,469.6M980.4,365.9Q1023.4,433.8 1103.7,438.0" fill="none" stroke="#8cc468" stroke-opacity="0.4" stroke-width="0.7"/>
<path d="M1103.7,438.0Q1106.0,418.8 1097.3,401.6M1127.6,421.3Q1125.8,404.2 1138.3,392.4M1086.2,430.5Q1101.3,448.1 1092.8,469.6M1086.2,430.5Q1097.5,428.2 1103.7,438.0M1097.3,401.6Q1106.5,420.6 1127.6,421.3M1103.7,438.0Q1105.0,451.2 1115.6,459.3M1092.8,469.6Q1103.5,455.6 1103.7,438.0M1103.7,438.0Q1133.7,424.8 1138.3,392.4M1178.3,442.6Q1146.0,427.3 1138.3,392.4M1138.3,392.4Q1131.5,415.4 1147.7,433.0M1138.3,392.4Q1130.5,422.4 1103.7,438.0M1127.6,421.3Q1108.6,433.6 1086.2,430.5M1136.4,455.0Q1143.3,435.2 1127.6,421.3M1127.6,421.3Q1093.4,433.4 1092.8,469.6M1092.8,469.6Q1108.5,457.4 1103.7,438.0M1160.1,398.8Q1137.9,427.0 1103.7,438.0" fill="none" stroke="#b98a5a" stroke-opacity="0.45" stroke-width="0.7"/>
<path d="M1147.7,433.0Q1035.6,387.1 927.8,442.4M1086.2,430.5Q982.2,479.9 868.4,462.1M1138.3,392.4Q1085.6,419.8 1027.8,406.3M1147.7,433.0Q1082.1,444.8 1027.8,406.3M1103.7,438.0Q1047.2,441.2 1005.0,403.5M1127.6,421.3Q1063.1,434.8 1005.0,403.5M1138.3,392.4Q1031.8,469.2 903.2,495.9M1092.8,469.6Q1037.9,451.2 1005.0,403.5M1147.7,433.0Q1073.9,375.0 980.4,365.9M1127.6,421.3Q1029.9,452.6 927.8,442.4M1086.2,430.5Q1074.8,387.9 1034.0,371.3M1086.2,430.5Q1015.2,446.9 950.0,414.2M1103.7,438.0Q1050.3,424.1 1034.0,371.3M1086.2,430.5Q1082.6,390.0 1061.2,355.5M1127.6,421.3Q1006.7,478.5 873.1,483.3M1138.3,392.4Q1080.3,410.8 1034.0,371.3M1127.6,421.3Q988.9,405.2 873.1,483.3M1103.7,438.0Q1032.1,519.0 924.0,516.6" fill="none" stroke="#b98a5a" stroke-opacity="0.45" stroke-width="0.7"/>
<path d="M871.0,554.6Q868.7,515.1 903.2,495.9M924.0,516.6Q911.6,473.6 868.4,462.1M929.8,490.7Q934.1,521.4 917.3,547.4M924.0,516.6Q890.0,484.7 874.8,440.7M873.1,483.3Q892.8,485.8 905.4,470.4M856.7,499.1Q870.7,497.2 873.1,483.3M929.8,490.7Q920.3,478.9 928.9,466.4M873.1,483.3Q860.4,486.5 856.7,499.1M903.2,495.9Q908.7,511.2 924.0,516.6M944.1,522.3Q918.5,517.1 903.2,495.9M856.7,499.1Q864.5,511.6 879.1,509.3M917.3,547.4Q927.6,531.5 944.1,522.3M856.7,499.1Q861.2,487.4 873.1,483.3M873.1,483.3Q883.3,494.6 879.1,509.3M944.1,522.3Q913.3,494.2 873.1,483.3M905.4,470.4Q883.9,479.5 868.4,462.1" fill="none" stroke="#b98a5a" stroke-opacity="0.45" stroke-width="0.7"/>
<path d="M998.6,546.9Q985.1,542.2 984.9,527.9M998.6,546.9Q988.0,578.7 1013.1,600.9M1058.4,552.1Q1063.5,535.4 1052.6,521.7M1027.6,527.1Q1047.3,552.3 1029.5,578.9M1031.4,547.4Q1013.6,536.3 1009.9,515.7M1072.0,619.5Q1037.2,591.8 993.6,583.3M1013.3,561.5Q1019.8,528.6 1052.6,521.7M1073.1,538.2Q1003.9,509.0 953.2,564.4M953.2,564.4Q1016.7,549.4 1076.3,576.1M1052.6,521.7Q1011.1,541.0 993.6,583.3M1058.4,552.1Q1007.8,574.9 953.2,564.4M1072.0,619.5Q1064.8,584.5 1029.5,578.9M1029.5,578.9Q1024.8,592.5 1013.1,600.9M1058.4,552.1Q1007.3,571.4 953.2,564.4M1027.6,527.1Q1040.1,567.9 1013.1,600.9M998.6,546.9Q987.7,563.9 993.6,583.3M1013.1,600.9Q1009.9,584.9 993.6,583.3M1013.1,600.9Q1054.2,593.7 1058.4,552.1M1052.6,521.7Q1032.8,507.4 1009.9,515.7M953.2,564.4Q966.7,588.1 993.6,583.3M1072.0,619.5Q1045.2,601.8 1013.1,600.9M1076.3,576.1Q1019.1,538.7 966.5,582.3M1027.6,527.1Q1022.8,562.6 993.6,583.3M1087.6,645.1Q1061.3,593.6 1013.3,561.5M1097.1,623.7Q1036.9,593.7 1027.6,527.1M1013.1,600.9Q1039.1,557.3 1009.9,515.7M1009.9,515.7Q1001.3,529.7 984.9,527.9M966.5,582.3Q989.4,547.1 1031.4,547.4M953.2,564.4Q996.1,573.2 1031.4,547.4M953.2,564.4Q962.4,540.4 984.9,527.9M1072.0,619.5Q1085.6,615.5 1097.1,623.7M1013.1,600.9Q995.5,559.1 1027.6,527.1M1072.0,619.5Q1086.0,612.8 1097.1,623.7M1013.1,600.9Q1046.9,642.6 1097.1,623.7M1013.1,600.9Q1026.5,593.8 1029.5,578.9M1031.4,547.4Q1032.5,536.7 1027.6,527.1M984.9,527.9Q1006.4,533.3 1027.6,527.1M1076.3,576.1Q1068.9,534.7 1027.6,527.1M977.8,558.3Q1028.0,560.3 1073.1,538.2M1031.4,547.4Q1013.0,526.1 984.9,527.9M1013.3,561.5Q995.0,565.6 977.8,558.3M1029.5,578.9Q1013.4,584.0 1013.1,600.9M1013.1,600.9Q1022.1,555.5 984.9,527.9M977.8,558.3Q986.1,548.8 998.6,546.9M1052.6,521.7Q1034.5,553.4 998.6,546.9M1013.1,600.9Q1057.3,611.3 1087.6,645.1M1013.3,561.5Q982.5,547.8 953.2,564.4M1009.9,515.7Q1019.1,553.7 993.6,583.3M1058.4,552.1Q1042.4,522.9 1009.9,515.7M1076.3,576.1Q1043.8,559.7 1027.6,527.1" fill="none" stroke="#e36b66" stroke-opacity="0.42" stroke-width="0.7"/>
<path d="M993.6,583.3Q933.6,539.3 905.4,470.4M1083.2,597.7Q977.8,607.8 924.0,516.6M1027.6,527.1Q955.9,549.3 903.2,495.9M1029.5,578.9Q982.3,507.6 905.4,470.4M1013.1,600.9Q998.6,544.0 944.1,522.3M1031.4,547.4Q996.4,504.8 944.1,522.3M1052.6,521.7Q950.6,559.6 873.1,483.3M1083.2,597.7Q1015.7,504.1 905.4,470.4M1009.9,515.7Q967.2,539.3 924.0,516.6M1058.4,552.1Q990.2,579.7 944.1,522.3" fill="none" stroke="#e36b66" stroke-opacity="0.42" stroke-width="0.7"/>
<path d="M1052.6,521.7Q1068.1,446.8 1005.0,403.5M1013.1,600.9Q967.9,499.6 1027.8,406.3M998.6,546.9Q1102.0,524.1 1127.6,421.3M953.2,564.4Q915.2,458.1 980.4,365.9M1027.6,527.1Q1047.9,446.1 1127.6,421.3M1052.6,521.7Q1039.1,464.9 1086.2,430.5" fill="none" stroke="#e36b66" stroke-opacity="0.42" stroke-width="0.7"/>
<path d="M1110.9,504.2Q1130.4,518.6 1154.3,522.6M1110.9,504.2Q1134.4,509.1 1154.3,522.6M1110.9,504.2Q1128.6,522.9 1154.3,522.6M1110.9,504.2Q1160.1,521.5 1183.8,567.9M1110.9,504.2Q1165.2,515.6 1183.8,567.9M1130.4,517.0Q1164.7,534.4 1183.8,567.9M1154.3,522.6Q1166.2,513.8 1179.5,520.2M1154.3,522.6Q1166.5,516.9 1179.5,520.2M1154.3,522.6Q1163.6,548.8 1183.8,567.9M1154.3,522.6Q1173.6,542.3 1183.8,567.9M1154.3,522.6Q1159.1,551.7 1183.8,567.9M1179.5,520.2Q1174.5,544.7 1183.8,567.9M1179.5,520.2Q1187.4,543.5 1183.8,567.9M1179.5,520.2Q1159.4,526.9 1149.4,545.6M1149.4,545.6Q1171.1,549.9 1183.8,567.9M1194.5,536.4Q1179.7,548.9 1183.8,567.9M1183.8,567.9Q1178.9,579.4 1167.4,584.4M1183.8,567.9Q1181.4,581.9 1167.4,584.4M1147.5,569.1Q1152.9,582.7 1167.4,584.4M1052.6,521.7Q1107.0,509.5 1149.4,545.6M1173.8,548.6Q1174.9,560.2 1183.8,567.9" fill="none" stroke="#8fd0f2" stroke-opacity="0.5" stroke-width="0.7"/>
<path d="M1073.1,538.2Q1129.9,550.5 1179.5,520.2M1073.1,538.2Q1131.3,559.0 1179.5,520.2M1073.1,538.2Q1110.4,551.1 1149.4,545.6M1083.2,597.7Q1117.6,557.0 1110.9,504.2M1076.3,576.1Q1104.4,545.3 1110.9,504.2M1087.6,645.1Q1111.3,558.0 1092.8,469.6M1052.6,521.7Q1103.6,501.8 1154.3,522.6" fill="none" stroke="#e36b66" stroke-opacity="0.42" stroke-width="0.7"/>
<g fill="#a56a2a"><circle cx="894.7" cy="425.8" r="1.3"/><circle cx="874.8" cy="440.7" r="2.5"/><circle cx="927.8" cy="442.4" r="3.0"/><circle cx="899.8" cy="448.9" r="1.3"/><circle cx="868.4" cy="462.1" r="4.5"/><circle cx="928.9" cy="466.4" r="2.5"/><circle cx="905.4" cy="470.4" r="4.7"/><circle cx="956" cy="478.5" r="1.5"/><circle cx="873.1" cy="483.3" r="6.4"/><circle cx="929.8" cy="490.7" r="2.5"/><circle cx="903.2" cy="495.9" r="6.8"/><circle cx="856.7" cy="499.1" r="2.1"/><circle cx="953.7" cy="503.1" r="1.3"/><circle cx="879.1" cy="509.3" r="2.5"/><circle cx="924" cy="516.6" r="3.4"/><circle cx="944.1" cy="522.3" r="3.6"/><circle cx="900.9" cy="523.2" r="1.3"/><circle cx="865.4" cy="526.8" r="1.9"/><circle cx="893.4" cy="543.1" r="1.5"/><circle cx="917.3" cy="547.4" r="2.6"/><circle cx="871" cy="554.6" r="2.5"/><circle cx="892.8" cy="567.6" r="2.5"/><circle cx="1102.4" cy="369.6" r="1.7"/><circle cx="1129.8" cy="369.8" r="1.5"/><circle cx="1138.3" cy="392.4" r="6.0"/><circle cx="1116.5" cy="394.4" r="1.5"/><circle cx="1097.3" cy="401.6" r="2.1"/><circle cx="1160.1" cy="398.8" r="1.9"/><circle cx="1127.6" cy="421.3" r="9.6"/><circle cx="1170.3" cy="419.8" r="6.2"/><circle cx="1086.2" cy="430.5" r="9.0"/><circle cx="1103.7" cy="438" r="7.5"/><circle cx="1147.7" cy="433" r="5.7"/><circle cx="1178.3" cy="442.6" r="3.0"/><circle cx="1136.4" cy="455" r="1.7"/><circle cx="1115.6" cy="459.3" r="1.9"/><circle cx="1160.5" cy="457.8" r="1.7"/><circle cx="1092.8" cy="469.6" r="5.1"/></g>
<g fill="#6fb544"><circle cx="983.6" cy="341.2" r="2.5"/><circle cx="1021" cy="343.7" r="5.1"/><circle cx="1043.9" cy="342.4" r="5.3"/><circle cx="1061.2" cy="355.5" r="10.9"/><circle cx="1005.2" cy="354.8" r="1.5"/><circle cx="954.8" cy="358.3" r="1.5"/><circle cx="980.4" cy="365.9" r="9.6"/><circle cx="1034" cy="371.3" r="9.2"/><circle cx="934.4" cy="374.3" r="5.8"/><circle cx="1065.4" cy="377.7" r="2.5"/><circle cx="1003.2" cy="381.1" r="1.3"/><circle cx="953.2" cy="386.9" r="7.3"/><circle cx="975.2" cy="392" r="3.6"/><circle cx="1046.8" cy="392.6" r="6.8"/><circle cx="927.2" cy="399.1" r="7.2"/><circle cx="1005" cy="403.5" r="13.2"/><circle cx="1027.8" cy="406.3" r="10.2"/><circle cx="1060.9" cy="410.2" r="2.5"/><circle cx="950" cy="414.2" r="10.9"/><circle cx="983" cy="417.2" r="2.5"/><circle cx="1042.1" cy="426.4" r="2.5"/><circle cx="964.2" cy="433.9" r="2.5"/><circle cx="1024.4" cy="439" r="2.5"/><circle cx="1002.4" cy="442.9" r="7.0"/><circle cx="979.5" cy="449.5" r="2.5"/><circle cx="1053.9" cy="447.6" r="2.5"/><circle cx="999" cy="467.4" r="2.5"/><circle cx="1023.6" cy="466.6" r="2.5"/><circle cx="1045.6" cy="469.2" r="2.5"/></g>
<g fill="#d92f2c"><circle cx="1009.9" cy="515.7" r="8.8"/><circle cx="1052.6" cy="521.7" r="7.2"/><circle cx="984.9" cy="527.9" r="7.2"/><circle cx="1027.6" cy="527.1" r="5.5"/><circle cx="1073.1" cy="538.2" r="4.1"/><circle cx="998.6" cy="546.9" r="5.8"/><circle cx="1031.4" cy="547.4" r="6.4"/><circle cx="1058.4" cy="552.1" r="8.3"/><circle cx="977.8" cy="558.3" r="4.5"/><circle cx="1013.3" cy="561.5" r="3.8"/><circle cx="953.2" cy="564.4" r="6.8"/><circle cx="1048.6" cy="573.3" r="3.8"/><circle cx="1076.3" cy="576.1" r="5.5"/><circle cx="1029.5" cy="578.9" r="6.8"/><circle cx="966.5" cy="582.3" r="6.4"/><circle cx="993.6" cy="583.3" r="7.0"/><circle cx="934.9" cy="585.9" r="2.5"/><circle cx="1013.1" cy="600.9" r="15.0"/><circle cx="1083.2" cy="597.7" r="5.3"/><circle cx="1053" cy="600" r="1.1"/><circle cx="972.5" cy="604.7" r="2.5"/><circle cx="918.8" cy="609.6" r="2.5"/><circle cx="941.1" cy="610" r="2.5"/><circle cx="1072" cy="619.5" r="5.3"/><circle cx="1097.1" cy="623.7" r="4.5"/><circle cx="959.9" cy="625" r="2.5"/><circle cx="997.5" cy="623.3" r="2.5"/><circle cx="1023.3" cy="624.4" r="1.3"/><circle cx="1049" cy="623.7" r="2.5"/><circle cx="937" cy="637.8" r="2.5"/><circle cx="982.5" cy="637.6" r="2.5"/><circle cx="1087.6" cy="645.1" r="3.6"/><circle cx="1045.5" cy="645.1" r="2.5"/><circle cx="1018.8" cy="649.2" r="1.1"/><circle cx="961.4" cy="651.5" r="2.5"/><circle cx="1068.2" cy="655.6" r="2.5"/><circle cx="986.4" cy="661.3" r="2.5"/><circle cx="1009.5" cy="670.1" r="2.5"/><circle cx="1042.3" cy="668.2" r="1.1"/></g>
<g fill="#6ec5f0"><circle cx="1142.1" cy="494.6" r="2.5"/><circle cx="1166.3" cy="496.9" r="2.5"/><circle cx="1190.4" cy="498.4" r="2.5"/><circle cx="1110.9" cy="504.2" r="2.1"/><circle cx="1130.4" cy="517" r="2.5"/><circle cx="1179.5" cy="520.2" r="2.5"/><circle cx="1154.3" cy="522.6" r="3.6"/><circle cx="1106" cy="528.6" r="2.5"/><circle cx="1194.5" cy="536.4" r="1.3"/><circle cx="1121.2" cy="544.6" r="2.5"/><circle cx="1149.4" cy="545.6" r="4.0"/><circle cx="1173.8" cy="548.6" r="1.3"/><circle cx="1119.3" cy="567.7" r="2.5"/><circle cx="1183.8" cy="567.9" r="3.4"/><circle cx="1147.5" cy="569.1" r="1.3"/><circle cx="1167.4" cy="584.4" r="1.7"/><circle cx="1130.2" cy="588.7" r="2.5"/><circle cx="1157.1" cy="603.2" r="2.5"/><circle cx="1135.9" cy="612" r="2.5"/></g>
</g>
<g>
<path d="M1594.4,418.0Q1594.9,532.0 1697.5,581.6M1594.4,418.0Q1692.9,417.2 1747.6,499.0M1671.0,581.6Q1704.4,470.5 1820.1,462.7M1619.0,436.7Q1699.8,478.1 1781.6,438.8M1682.7,453.6Q1727.0,411.6 1781.6,438.8M1663.7,619.8Q1774.7,605.6 1824.0,505.2M1820.1,462.7Q1739.3,473.5 1724.7,553.7M1671.0,581.6Q1684.2,574.3 1697.5,581.6M1852.2,501.9Q1748.2,511.2 1713.7,609.7M1852.2,501.9Q1772.6,488.8 1724.7,553.7M1689.0,609.0Q1672.3,627.5 1648.5,635.2M1666.3,651.6Q1681.1,647.9 1690.0,635.5M1662.3,559.1Q1607.4,498.6 1594.4,418.0M1619.0,436.7Q1642.3,451.3 1644.5,478.7M1789.6,478.4Q1827.5,509.4 1875.8,501.9M1724.7,553.7Q1726.2,593.8 1689.0,609.0M1594.4,418.0Q1666.6,496.2 1772.5,507.0M1724.7,553.7Q1684.0,592.2 1629.8,606.2M1644.5,478.7Q1677.2,489.7 1689.8,521.8M1870.2,479.4Q1855.1,491.7 1836.9,484.8M1619.0,436.7Q1575.5,544.3 1663.7,619.8M1781.6,438.8Q1689.7,433.0 1655.5,518.5M1718.6,455.9Q1711.7,444.1 1698.7,440.2M1818.6,545.7Q1860.8,541.6 1875.8,501.9M1713.7,609.7Q1699.9,584.2 1671.0,581.6M1588.7,466.9Q1603.4,530.7 1662.3,559.1M1697.0,552.5Q1680.4,549.8 1670.3,536.4M1836.9,484.8Q1870.0,494.2 1896.5,472.3M1678.5,407.9Q1758.3,404.9 1789.6,478.4M1836.9,484.8Q1852.5,475.8 1870.2,479.4M1620.9,482.9Q1661.9,524.2 1671.0,581.6M1697.0,552.5Q1702.3,535.1 1689.8,521.8M1713.7,609.7Q1668.7,586.9 1670.3,536.4M1832.9,613.0Q1802.2,560.5 1742.7,573.4M1836.9,484.8Q1788.1,465.5 1747.6,499.0M1689.0,609.0Q1688.6,589.7 1671.0,581.6M1870.2,479.4Q1792.1,551.9 1689.8,521.8M1824.0,505.2Q1812.4,484.8 1820.1,462.7M1771.1,530.7Q1686.2,563.0 1666.3,651.6M1713.7,609.7Q1677.0,572.5 1689.8,521.8M1875.8,501.9Q1864.0,496.3 1852.2,501.9M1870.2,479.4Q1867.1,492.1 1875.8,501.9M1662.3,559.1Q1717.9,488.6 1678.5,407.9M1875.8,501.9Q1867.2,492.1 1870.2,479.4M1772.5,507.0Q1825.1,523.1 1875.8,501.9M1836.9,484.8Q1724.5,462.9 1662.3,559.1M1588.7,466.9Q1610.5,463.4 1620.9,482.9M1594.4,418.0Q1626.0,467.0 1682.7,453.6M1648.5,635.2Q1660.1,631.5 1663.7,619.8M1712.7,532.8Q1761.8,570.8 1818.6,545.7M1689.8,521.8Q1679.6,458.3 1619.0,436.7M1666.3,651.6Q1656.8,636.4 1663.7,619.8M1824.0,505.2Q1761.7,552.2 1689.8,521.8M1663.7,619.8Q1657.2,636.3 1666.3,651.6M1607.7,591.9Q1639.9,602.4 1648.5,635.2M1820.1,462.7Q1712.9,398.2 1620.9,482.9M1712.7,532.8Q1688.3,460.1 1611.7,458.7M1689.0,609.0Q1759.5,661.5 1832.9,613.0M1724.7,553.7Q1769.0,518.5 1818.6,545.7M1771.1,530.7Q1771.6,501.5 1789.6,478.4M1747.6,499.0Q1822.8,531.6 1832.9,613.0M1671.0,581.6Q1612.9,509.0 1594.4,418.0M1648.5,635.2Q1686.6,590.6 1742.7,573.4M1742.7,573.4Q1704.4,497.8 1620.9,482.9M1663.7,619.8Q1680.8,621.0 1690.0,635.5M1818.6,545.7Q1732.9,556.8 1655.5,518.5M1712.7,532.8Q1753.4,526.8 1792.0,541.0M1820.1,462.7Q1807.9,485.3 1824.0,505.2M1689.0,609.0Q1722.7,536.1 1718.6,455.9M1611.7,458.7Q1646.2,442.5 1682.7,453.6M1644.5,478.7Q1616.8,466.8 1619.0,436.7M1747.6,499.0Q1705.8,529.0 1655.5,518.5M1896.5,472.3Q1870.7,497.5 1836.9,484.8M1772.5,507.0Q1788.5,520.4 1792.0,541.0M1820.1,462.7Q1747.0,517.8 1655.5,518.5M1648.5,635.2Q1659.2,630.5 1663.7,619.8M1666.3,651.6Q1615.1,643.3 1607.7,591.9M1742.7,573.4Q1704.6,558.0 1671.0,581.6M1620.9,482.9Q1686.0,529.2 1689.0,609.0M1781.6,438.8Q1806.1,442.3 1820.1,462.7M1832.9,613.0Q1799.8,561.5 1824.0,505.2M1836.9,484.8Q1808.2,548.6 1742.7,573.4M1666.3,651.6Q1643.6,614.9 1671.0,581.6M1875.8,501.9Q1864.0,497.0 1852.2,501.9M1594.4,418.0Q1645.9,455.5 1655.5,518.5M1789.6,478.4Q1750.3,479.3 1718.6,455.9M1670.3,536.4Q1690.3,520.7 1712.7,532.8M1820.1,462.7Q1821.7,478.9 1836.9,484.8M1724.7,553.7Q1711.1,547.6 1697.0,552.5M1771.1,530.7Q1808.5,481.5 1870.2,479.4M1690.0,635.5Q1767.6,663.5 1832.9,613.0M1818.6,545.7Q1813.8,524.5 1824.0,505.2M1718.6,455.9Q1721.0,524.2 1662.3,559.1M1670.3,536.4Q1720.9,542.5 1747.6,499.0M1594.4,418.0Q1671.7,456.7 1712.7,532.8M1852.2,501.9Q1829.6,487.6 1820.1,462.7M1620.9,482.9Q1648.6,529.0 1697.0,552.5M1689.0,609.0Q1674.5,610.1 1663.7,619.8M1781.6,438.8Q1772.4,461.3 1789.6,478.4M1870.2,479.4Q1881.0,488.7 1875.8,501.9" fill="none" stroke="#b98a5a" stroke-opacity="0.48" stroke-width="0.7"/>
<path d="M1822.2,584.4Q1803.3,525.6 1747.6,499.0M1690.0,635.5Q1724.3,578.6 1689.8,521.8M1851.5,452.4Q1847.2,496.4 1812.6,523.9M1781.6,438.8Q1737.4,481.5 1682.7,453.6M1662.3,559.1Q1623.9,515.5 1611.7,458.7M1747.6,499.0Q1730.9,533.9 1697.0,552.5M1812.6,523.9Q1794.3,542.4 1771.1,530.7M1842.6,526.0Q1828.0,519.4 1812.6,523.9M1697.0,552.5Q1727.4,546.3 1742.7,573.4M1713.7,609.7Q1690.7,624.5 1663.7,619.8M1648.5,635.2Q1660.9,609.9 1689.0,609.0M1724.7,553.7Q1724.0,495.1 1682.7,453.6M1671.0,581.6Q1682.2,545.4 1655.5,518.5M1832.7,651.9Q1825.9,632.4 1832.9,613.0M1789.6,478.4Q1739.4,500.8 1724.7,553.7M1593.9,551.3Q1587.2,576.2 1607.7,591.9M1772.5,507.0Q1747.1,530.3 1712.7,532.8M1824.0,505.2Q1816.7,479.2 1789.6,478.4M1758.4,438.1Q1770.2,431.0 1781.6,438.8M1689.8,521.8Q1660.6,493.0 1620.9,482.9M1789.6,478.4Q1729.1,496.5 1682.7,453.6M1855.0,425.9Q1887.8,457.8 1875.8,501.9M1662.3,559.1Q1640.9,500.2 1682.7,453.6M1822.2,584.4Q1782.0,555.5 1772.5,507.0M1771.1,530.7Q1750.4,521.5 1747.6,499.0M1812.6,523.9Q1819.2,533.8 1818.6,545.7M1712.7,532.8Q1692.6,548.1 1670.3,536.4M1803.2,420.5Q1820.7,438.0 1820.1,462.7M1857.3,393.6Q1876.3,448.8 1852.2,501.9M1662.3,559.1Q1680.6,561.0 1697.0,552.5" fill="none" stroke="#b98a5a" stroke-opacity="0.48" stroke-width="0.7"/>
<path d="M1682.3,341.3Q1685.7,355.2 1699.6,358.7M1714.8,337.3Q1712.5,351.8 1699.6,358.7M1699.6,358.7Q1715.1,363.5 1729.6,356.3M1699.6,358.7Q1714.2,353.0 1729.6,356.3M1699.6,358.7Q1688.6,364.6 1682.7,375.5M1699.6,358.7Q1714.0,364.8 1720.2,379.1M1729.6,356.3Q1720.3,365.8 1720.2,379.1M1682.7,375.5Q1700.8,384.1 1720.2,379.1M1682.7,375.5Q1701.9,372.8 1720.2,379.1M1662.6,363.6Q1693.3,364.4 1720.2,379.1M1682.7,375.5Q1703.3,358.9 1729.6,356.3M1662.6,363.6Q1681.6,364.8 1699.6,358.7M1662.6,363.6Q1662.7,413.2 1619.0,436.7M1720.2,379.1Q1797.6,410.9 1836.9,484.8" fill="none" stroke="#b98a5a" stroke-opacity="0.55" stroke-width="0.7"/>
<path d="M1761.5,339.0Q1779.2,344.2 1795.5,335.7M1761.5,339.0Q1778.1,333.3 1795.5,335.7M1761.5,339.0Q1771.0,349.6 1784.7,353.3M1795.5,335.7Q1786.6,342.3 1784.7,353.3M1795.5,335.7Q1811.0,339.8 1814.7,355.4M1784.7,353.3Q1800.2,346.9 1814.7,355.4M1761.5,339.0Q1756.7,355.4 1766.9,369.0M1761.5,339.0Q1767.2,353.5 1766.9,369.0M1784.7,353.3Q1778.2,363.8 1766.9,369.0M1795.5,335.7Q1777.2,348.9 1766.9,369.0" fill="none" stroke="#b98a5a" stroke-opacity="0.55" stroke-width="0.7"/>
<path d="M1915.9,518.0Q1898.8,532.7 1896.5,555.1M1915.9,518.0Q1911.8,539.5 1896.5,555.1M1915.9,518.0Q1904.3,535.6 1896.5,555.1M1915.9,518.0Q1882.8,527.8 1870.7,560.2M1915.9,518.0Q1923.5,532.4 1919.0,548.0M1915.9,518.0Q1903.4,547.7 1905.8,579.9M1892.7,532.1Q1887.7,544.7 1896.5,555.1M1896.5,555.1Q1906.3,547.0 1919.0,548.0M1896.5,555.1Q1883.1,555.1 1870.7,560.2M1870.7,560.2Q1884.3,577.1 1905.8,579.9M1870.7,560.2Q1881.8,570.2 1882.9,585.1M1905.8,579.9Q1892.8,575.6 1882.9,585.1M1896.5,555.1Q1906.1,565.6 1905.8,579.9M1896.5,555.1Q1885.2,568.1 1882.9,585.1" fill="none" stroke="#b98a5a" stroke-opacity="0.55" stroke-width="0.7"/>
<path d="M1766.9,609.4Q1763.0,621.1 1770.1,631.2M1766.9,609.4Q1772.9,619.7 1770.1,631.2M1766.9,609.4Q1770.3,634.3 1755.6,654.7M1766.9,609.4Q1760.8,648.6 1795.5,667.8M1770.1,631.2Q1767.5,645.9 1755.6,654.7M1770.1,631.2Q1773.7,655.9 1795.5,667.8M1755.6,654.7Q1773.6,667.2 1795.5,667.8M1755.6,654.7Q1778.2,653.3 1795.5,667.8M1755.6,654.7Q1761.1,669.1 1753.0,682.1M1795.5,667.8Q1772.1,668.6 1753.0,682.1M1795.5,667.8Q1777.1,683.5 1753.0,682.1M1770.1,631.2Q1756.5,654.9 1753.0,682.1M1766.9,609.4Q1781.8,649.9 1753.0,682.1" fill="none" stroke="#8fd0f2" stroke-opacity="0.55" stroke-width="0.7"/>
<path d="M1766.9,609.4Q1793.1,580.2 1792.0,541.0" fill="none" stroke="#b98a5a" stroke-opacity="0.5" stroke-width="0.7"/>
<g fill="#a56a2a"><circle cx="1682.3" cy="341.3" r="1.4"/><circle cx="1714.8" cy="337.3" r="1.4"/><circle cx="1761.5" cy="339" r="2.8"/><circle cx="1795.5" cy="335.7" r="2.8"/><circle cx="1784.7" cy="353.3" r="3.0"/><circle cx="1814.7" cy="355.4" r="1.6"/><circle cx="1699.6" cy="358.7" r="2.8"/><circle cx="1729.6" cy="356.3" r="1.8"/><circle cx="1662.6" cy="363.6" r="1.6"/><circle cx="1766.9" cy="369" r="1.8"/><circle cx="1682.7" cy="375.5" r="2.3"/><circle cx="1720.2" cy="379.1" r="2.3"/><circle cx="1632.8" cy="390.5" r="2.1"/><circle cx="1610.8" cy="400.4" r="2.3"/><circle cx="1794.8" cy="399.5" r="2.3"/><circle cx="1820.3" cy="393.8" r="2.3"/><circle cx="1857.3" cy="393.6" r="2.3"/><circle cx="1839.7" cy="405.1" r="2.3"/><circle cx="1678.5" cy="407.9" r="4.7"/><circle cx="1706.2" cy="410.5" r="2.3"/><circle cx="1769.7" cy="412.8" r="1.1"/><circle cx="1594.4" cy="418" r="7.7"/><circle cx="1637.5" cy="415.2" r="1.8"/><circle cx="1878.9" cy="417" r="2.3"/><circle cx="1803.2" cy="420.5" r="2.3"/><circle cx="1724.7" cy="422.7" r="2.3"/><circle cx="1855" cy="425.9" r="2.3"/><circle cx="1828.7" cy="428.7" r="2.3"/><circle cx="1673.1" cy="431.1" r="1.6"/><circle cx="1619" cy="436.7" r="10.3"/><circle cx="1584.3" cy="441.2" r="1.4"/><circle cx="1758.4" cy="438.1" r="2.3"/><circle cx="1781.6" cy="438.8" r="4.0"/><circle cx="1698.7" cy="440.2" r="5.1"/><circle cx="1803" cy="444.9" r="2.3"/><circle cx="1642.9" cy="446.6" r="2.3"/><circle cx="1893.9" cy="446.1" r="1.8"/><circle cx="1873.5" cy="449.8" r="2.3"/><circle cx="1851.5" cy="452.4" r="2.3"/><circle cx="1682.7" cy="453.6" r="4.2"/><circle cx="1718.6" cy="455.9" r="3.2"/><circle cx="1611.7" cy="458.7" r="7.2"/><circle cx="1757.3" cy="461.6" r="1.6"/><circle cx="1820.1" cy="462.7" r="9.1"/><circle cx="1588.7" cy="466.9" r="6.1"/><circle cx="1896.5" cy="472.3" r="3.7"/><circle cx="1679.9" cy="476.8" r="2.5"/><circle cx="1705.5" cy="478.9" r="1.4"/><circle cx="1789.6" cy="478.4" r="5.6"/><circle cx="1644.5" cy="478.7" r="8.4"/><circle cx="1815.6" cy="479.1" r="1.8"/><circle cx="1766.9" cy="480.5" r="1.4"/><circle cx="1870.2" cy="479.4" r="8.6"/><circle cx="1620.9" cy="482.9" r="8.6"/><circle cx="1836.9" cy="484.8" r="6.1"/><circle cx="1747.6" cy="499" r="5.6"/><circle cx="1584.5" cy="501.2" r="1.8"/><circle cx="1875.8" cy="501.9" r="8.6"/><circle cx="1852.2" cy="501.9" r="3.2"/><circle cx="1795.5" cy="504.2" r="2.1"/><circle cx="1824" cy="505.2" r="5.8"/><circle cx="1772.5" cy="507" r="5.6"/><circle cx="1563.7" cy="513.4" r="2.3"/><circle cx="1606.8" cy="518.5" r="1.1"/><circle cx="1655.5" cy="518.5" r="4.0"/><circle cx="1915.9" cy="518" r="2.3"/><circle cx="1689.8" cy="521.8" r="4.9"/><circle cx="1812.6" cy="523.9" r="5.1"/><circle cx="1842.6" cy="526" r="3.0"/><circle cx="1583.4" cy="528.3" r="2.3"/><circle cx="1771.1" cy="530.7" r="3.5"/><circle cx="1712.7" cy="532.8" r="4.2"/><circle cx="1670.3" cy="536.4" r="10.7"/><circle cx="1892.7" cy="532.1" r="1.1"/><circle cx="1638.7" cy="539.7" r="2.3"/><circle cx="1792" cy="541" r="4.4"/><circle cx="1818.6" cy="545.7" r="5.1"/><circle cx="1697" cy="552.5" r="9.3"/><circle cx="1724.7" cy="553.7" r="8.9"/><circle cx="1569.8" cy="552" r="1.6"/><circle cx="1593.9" cy="551.3" r="2.1"/><circle cx="1662.3" cy="559.1" r="4.7"/><circle cx="1621.8" cy="560.5" r="1.8"/><circle cx="1742.7" cy="573.4" r="8.6"/><circle cx="1635.1" cy="576.6" r="1.6"/><circle cx="1671" cy="581.6" r="15.0"/><circle cx="1697.5" cy="581.6" r="4.2"/><circle cx="1722.8" cy="585.8" r="1.1"/><circle cx="1607.7" cy="591.9" r="13.3"/><circle cx="1649.9" cy="596.6" r="2.3"/><circle cx="1629.8" cy="606.2" r="4.2"/><circle cx="1689" cy="609" r="10.7"/><circle cx="1713.7" cy="609.7" r="9.1"/><circle cx="1663.7" cy="619.8" r="11.0"/><circle cx="1621.8" cy="626.8" r="1.1"/><circle cx="1648.5" cy="635.2" r="10.3"/><circle cx="1690" cy="635.5" r="7.7"/><circle cx="1666.3" cy="651.6" r="3.7"/><circle cx="1832.9" cy="613" r="13.6"/><circle cx="1822.2" cy="584.4" r="2.3"/><circle cx="1846.5" cy="591.4" r="1.8"/><circle cx="1798" cy="593.7" r="2.1"/><circle cx="1868.6" cy="618.1" r="2.3"/><circle cx="1817" cy="628" r="2.3"/><circle cx="1854.3" cy="638.5" r="2.3"/><circle cx="1832.7" cy="651.9" r="2.3"/><circle cx="1919" cy="548" r="1.8"/><circle cx="1896.5" cy="555.1" r="3.5"/><circle cx="1870.7" cy="560.2" r="2.5"/><circle cx="1905.8" cy="579.9" r="2.5"/><circle cx="1882.9" cy="585.1" r="2.1"/></g>
<g fill="#6ec5f0"><circle cx="1766.9" cy="609.4" r="3.7"/><circle cx="1741.3" cy="630.3" r="2.5"/><circle cx="1770.1" cy="631.2" r="3.5"/><circle cx="1787.5" cy="645.8" r="2.3"/><circle cx="1725.1" cy="652.6" r="2.5"/><circle cx="1755.6" cy="654.7" r="4.2"/><circle cx="1795.5" cy="667.8" r="3.5"/><circle cx="1708.3" cy="672" r="2.5"/><circle cx="1775.8" cy="678.3" r="2.3"/><circle cx="1753" cy="682.1" r="3.7"/><circle cx="1731.2" cy="679.5" r="1.4"/></g>
</g>
<g transform="translate(1844.1,338.6) rotate(-11.9)" fill="#a0682d"><text x="-0.6" y="0" font-size="16.4" font-weight="400" fill="#a0682d" text-anchor="start" textLength="161.6" lengthAdjust="spacingAndGlyphs">Beauty/Pop Culture</text><text x="0.2" y="21.6" font-size="16.4" font-weight="400" fill="#a0682d" text-anchor="start" textLength="82.2" lengthAdjust="spacingAndGlyphs">Hinterland</text></g>
<rect x="467.6" y="277.4" width="377.4" height="49.8" rx="4.5" fill="#8cb264" stroke="#3a3a3a" stroke-width="1"/>
<text x="482.40" y="308.3" font-size="21" font-weight="700" fill="#fff" textLength="350.98" lengthAdjust="spacingAndGlyphs">Binance Users/ Int’l Crypto Traders</text>
<rect x="468.4" y="714.4" width="377.2" height="49.8" rx="4.5" fill="#c94036" stroke="#3a3a3a" stroke-width="1"/>
<text x="530.20" y="746.6" font-size="21" font-weight="700" fill="#fff" textLength="237.28" lengthAdjust="spacingAndGlyphs">Entrepreneurial Techies</text>
<rect x="1218.2" y="714.4" width="377.2" height="49.8" rx="4.5" fill="#90c0e8" stroke="#3a3a3a" stroke-width="1"/>
<text x="1234.44" y="744.3" font-size="21" font-weight="700" fill="#fff" textLength="350.32" lengthAdjust="spacingAndGlyphs">Progressive &amp; Anime-loving Gamers</text>
<text x="326.40" y="1030.9" font-size="24.4" font-weight="700" fill="#0a0a0a" textLength="432.32" lengthAdjust="spacingAndGlyphs">Characteristics of Audience Segment</text>
<line x1="792.1" y1="1015.7" x2="904.2" y2="910.1" stroke="#2b2b2b" stroke-width="1"/>
<line x1="792.1" y1="1028.3" x2="904.2" y2="1028.3" stroke="#2b2b2b" stroke-width="1"/>
<line x1="792.1" y1="1043" x2="904.2" y2="1150.3" stroke="#2b2b2b" stroke-width="1"/>
<rect x="904.6" y="864.1" width="797.6" height="91.29999999999995" rx="5" fill="#fff" stroke="#2e2e33" stroke-width="1.1"/><path d="M904.6,889.5V869.1a5,5 0 0 1 5,-5H1697.2a5,5 0 0 1 5,5V885.5a4,4 0 0 1 -4,4Z" fill="#81b45a" stroke="#2e2e33" stroke-width="1.1"/><text x="917.36" y="883.2" font-size="18.5" font-weight="700" fill="#fff" textLength="289.81" lengthAdjust="spacingAndGlyphs">Binance Users/ Int’l Crypto Traders</text>
<rect x="904.6" y="984.4" width="797.6" height="91.10000000000002" rx="5" fill="#fff" stroke="#2e2e33" stroke-width="1.1"/><path d="M904.6,1015.4V989.4a5,5 0 0 1 5,-5H1697.2a5,5 0 0 1 5,5V1011.4a4,4 0 0 1 -4,4Z" fill="#c94135" stroke="#2e2e33" stroke-width="1.1"/><text x="917.36" y="1008.2" font-size="18.5" font-weight="700" fill="#fff" textLength="195.81" lengthAdjust="spacingAndGlyphs">Entrepreneurial Techies</text>
<rect x="904.6" y="1100.7" width="797.6" height="90.70000000000005" rx="5" fill="#fff" stroke="#2e2e33" stroke-width="1.1"/><path d="M904.6,1131.4V1105.7a5,5 0 0 1 5,-5H1697.2a5,5 0 0 1 5,5V1127.4a4,4 0 0 1 -4,4Z" fill="#80c2ec" stroke="#2e2e33" stroke-width="1.1"/><text x="915.40" y="1122.4" font-size="18.5" font-weight="700" fill="#fff" textLength="289.66" lengthAdjust="spacingAndGlyphs">Progressive &amp; Anime-loving Gamers</text>
<text x="918.70" y="922.8" font-size="17.6" font-weight="400" fill="#1a1a1a" textLength="90.17" lengthAdjust="spacingAndGlyphs">Affinity for:</text>
<text x="918.70" y="1043.2" font-size="17.6" font-weight="400" fill="#1a1a1a" textLength="90.17" lengthAdjust="spacingAndGlyphs">Affinity for:</text>
<text x="919.30" y="1162.3" font-size="17.6" font-weight="400" fill="#1a1a1a" textLength="90.17" lengthAdjust="spacingAndGlyphs">Affinity for:</text>
<text x="1292.50" y="914" font-size="17.7" font-weight="400" fill="#1a1a1a" textLength="87.93" lengthAdjust="spacingAndGlyphs">Age: 25-34</text>
<text x="1310.84" y="935.4" font-size="17.7" font-weight="400" fill="#1a1a1a" textLength="59.62" lengthAdjust="spacingAndGlyphs">(39.6%)</text>
<text x="1508.80" y="915.9" font-size="17.7" font-weight="400" fill="#1a1a1a" textLength="106.34" lengthAdjust="spacingAndGlyphs">Gender: Male</text>
<text x="1545.91" y="937.4" font-size="17.7" font-weight="400" fill="#1a1a1a" textLength="61.48" lengthAdjust="spacingAndGlyphs">(83.6%)</text>
<text x="1292.50" y="1038.4" font-size="17.7" font-weight="400" fill="#1a1a1a" textLength="87.93" lengthAdjust="spacingAndGlyphs">Age: 25-34</text>
<text x="1306.11" y="1059.6" font-size="17.7" font-weight="400" fill="#1a1a1a" textLength="61.48" lengthAdjust="spacingAndGlyphs">(36.0%)</text>
<text x="1508.80" y="1038.4" font-size="17.7" font-weight="400" fill="#1a1a1a" textLength="106.34" lengthAdjust="spacingAndGlyphs">Gender: Male</text>
<text x="1545.94" y="1059.6" font-size="17.7" font-weight="400" fill="#1a1a1a" textLength="59.72" lengthAdjust="spacingAndGlyphs">(75.4%)</text>
<text x="1292.50" y="1158" font-size="17.7" font-weight="400" fill="#1a1a1a" textLength="87.93" lengthAdjust="spacingAndGlyphs">Age: 25-34</text>
<text x="1310.80" y="1179.2" font-size="17.7" font-weight="400" fill="#1a1a1a" textLength="61.68" lengthAdjust="spacingAndGlyphs">(43.0%)</text>
<text x="1508.80" y="1155.5" font-size="17.7" font-weight="400" fill="#1a1a1a" textLength="106.34" lengthAdjust="spacingAndGlyphs">Gender: Male</text>
<text x="1545.91" y="1176.8" font-size="17.7" font-weight="400" fill="#1a1a1a" textLength="61.48" lengthAdjust="spacingAndGlyphs">(52.8%)</text>
<circle cx="1044.5" cy="926.4" r="21.7" fill="#0b0c10"/>
<g transform="translate(1028.70,910.60) scale(0.2496)" fill="#f8b90b"><path d="M38.73 53.2l24.59-24.58 24.6 24.6 14.3-14.31L63.32 0 24.42 38.9zM0 63.31l14.3-14.31 14.31 14.31-14.31 14.3zM38.73 73.41l24.59 24.59 24.6-24.6 14.31 14.29-38.9 38.91-38.91-38.88zM98 63.31l14.3-14.31 14.31 14.3-14.31 14.32zM77.83 63.3L63.32 48.78 52.59 59.51l-1.24 1.23-2.54 2.54 14.51 14.5 14.51-14.47z"/></g>
<circle cx="1112.9" cy="926.4" r="20.5" fill="#fff" stroke="#3559a8" stroke-width="5.4"/><circle cx="1112.9" cy="927" r="9" fill="#3559a8"/><rect x="1112.9" y="926.2" width="20" height="2.4" fill="#3559a8"/>
<circle cx="1182.2" cy="926.8" r="22.9" fill="#262626"/>
<path d="M1190.8,917.9H1172V936.5H1181.5" fill="none" stroke="#fbbd23" stroke-width="3.6" stroke-linecap="round" stroke-linejoin="round"/>
<g fill="#fbbd23"><circle cx="1172" cy="917.9" r="3.5"/><circle cx="1181.5" cy="917.9" r="3.5"/><circle cx="1190.8" cy="917.9" r="3.5"/><circle cx="1172" cy="927.2" r="3.5"/><circle cx="1172" cy="936.5" r="3.5"/><circle cx="1181.5" cy="936.5" r="3.5"/><circle cx="1181.5" cy="927.5" r="1.3"/><circle cx="1190.8" cy="927.5" r="1.3"/><circle cx="1190.8" cy="936.8" r="1.3"/></g>
<circle cx="1041.6" cy="1046" r="23.2" fill="#000"/>
<g transform="translate(1015,1018) scale(0.04211)" fill="#fff"><path d="M370,440C380,360 480,330 560,350C660,375 740,400 790,370C800,350 780,330 740,325C800,300 880,330 890,420C890,480 850,530 790,530C700,530 620,480 530,470C470,465 430,480 410,520C385,500 368,470 370,440Z"/><path d="M570,500C450,540 340,640 350,780C360,930 480,1040 630,1040C780,1040 900,920 905,770C860,880 770,940 650,930C540,920 470,830 470,700C470,610 510,540 590,510Z"/><path d="M545,560L600,520L665,540L665,830L545,870Z"/><rect x="762" y="560" width="16" height="300"/><path d="M775,608Q806,664 856,690Q806,716 775,772Q744,716 694,690Q744,664 775,608Z"/></g>
<defs><linearGradient id="tc" x1="0" y1="0" x2="1" y2="1"><stop offset="0" stop-color="#0a9e52"/><stop offset="1" stop-color="#5db336"/></linearGradient><linearGradient id="wb" x1="0" y1="0" x2="0.3" y2="1"><stop offset="0" stop-color="#a6a6a6"/><stop offset="1" stop-color="#7e7e80"/></linearGradient><linearGradient id="wc" x1="0" y1="0" x2="0" y2="1"><stop offset="0" stop-color="#5a5a5a"/><stop offset="1" stop-color="#a8a8a8"/></linearGradient></defs>
<path transform="translate(1091.1,1034.3) scale(7.95)" d="M0,0H3V1H2V3H1V1H0ZM4,0H6V1H4V2H6V3H3V1H4Z" fill="url(#tc)"/>
<circle cx="1193.3" cy="1046.4" r="23.4" fill="#000"/>
<g transform="translate(1165,1018) scale(0.04211)"><g fill="url(#wc)"><path d="M505,835L655,870V985L505,950Z"/><path d="M745,910L900,945V1070L745,1035Z"/></g><g fill="url(#wb)"><path d="M385,320L545,355V835L385,800Z"/><path d="M625,400L775,435V905L625,870Z"/><path d="M855,480L1010,515V990L855,955Z"/></g><g stroke="#cfcfcf" stroke-width="14" stroke-opacity="0.8"><path d="M538,356V832"/><path d="M768,436V902"/><path d="M1003,516V987"/></g><g stroke="#d8d8d8" stroke-width="16" stroke-opacity="0.7" fill="none"><path d="M385,328L545,363"/><path d="M625,408L775,443"/><path d="M855,488L1010,523"/></g></g>
<circle cx="1042.4" cy="1164.9" r="21.3" fill="#4f5fad"/>
<g transform="translate(1026.1,1152.3) scale(0.2580)" fill="#fff"><path d="M107.7,8.07A105.15,105.15,0,0,0,81.47,0a72.06,72.06,0,0,0-3.36,6.83A97.68,97.68,0,0,0,49,6.83,72.37,72.37,0,0,0,45.64,0,105.89,105.89,0,0,0,19.39,8.09C2.79,32.65-1.71,56.6.54,80.21h0A105.73,105.73,0,0,0,32.71,96.36,77.7,77.7,0,0,0,39.6,85.25a68.42,68.42,0,0,1-10.85-5.18c.91-.66,1.8-1.34,2.66-2a75.57,75.57,0,0,0,64.32,0c.87.71,1.76,1.39,2.66,2a68.68,68.68,0,0,1-10.87,5.19,77,77,0,0,0,6.89,11.1A105.25,105.25,0,0,0,126.6,80.22h0C129.24,52.84,122.09,29.11,107.7,8.07ZM42.45,65.69C36.18,65.69,31,60,31,53s5-12.74,11.43-12.74S54,46,53.89,53,48.84,65.69,42.45,65.69Zm42.24,0C78.41,65.69,73.25,60,73.25,53s5-12.74,11.44-12.74S96.23,46,96.12,53,91.08,65.69,84.69,65.69Z"/></g>
<circle cx="1114.7" cy="1163.5" r="22.8" fill="#e52228"/><rect x="1096" y="1159" width="38" height="9.7" rx="4.85" fill="none" stroke="#fff" stroke-width="1.1"/>
<text x="1099.6" y="1166.3" font-size="6.9" font-weight="700" fill="#fff" text-anchor="start" textLength="30.6" lengthAdjust="spacingAndGlyphs">Nintendo</text>
<g transform="translate(1160,1135) scale(0.04211)" fill="none" stroke="#159050" stroke-linecap="round" stroke-linejoin="round"><path d="M960,335C700,340 380,420 265,590C190,720 250,900 345,985" stroke-width="72"/><path d="M960,335C1010,520 990,780 890,940C790,1090 590,1110 420,1040" stroke-width="72"/><path d="M925,380C800,385 640,420 500,490C420,530 350,600 305,700" stroke-width="46"/><path d="M940,395C740,520 570,700 430,985" stroke-width="112"/><path d="M948,450C950,620 900,780 800,870C720,930 600,940 500,935" stroke-width="82"/><path d="M960,335L972,205M965,330L1050,238M965,335L1088,297" stroke-width="50"/><path d="M345,960L240,1030L275,1075L320,1135L370,1075L440,1050L420,980Z" fill="#159050" stroke-width="10"/></g>
<text y="1284.3" font-size="12.3" font-weight="400" fill="#2a2a2a"><tspan x="53.10" textLength="221.35" lengthAdjust="spacingAndGlyphs">Audience segments of the Metaverse,</tspan> <tspan x="279.52" textLength="158.81" lengthAdjust="spacingAndGlyphs">NFts and Try-On within the</tspan> <tspan x="443.40" textLength="172.06" lengthAdjust="spacingAndGlyphs">Virtual Fashion conversations</tspan> <tspan x="620.60" textLength="85.35" lengthAdjust="spacingAndGlyphs">across Twitter,</tspan> <tspan x="710.80" textLength="99.81" lengthAdjust="spacingAndGlyphs">between Jul 28 -</tspan> <tspan x="814.61" textLength="38.53" lengthAdjust="spacingAndGlyphs">Dec 15</tspan> <tspan x="859.20" textLength="33.00" lengthAdjust="spacingAndGlyphs"> 2021.</tspan> <tspan x="896.90" textLength="179.93" lengthAdjust="spacingAndGlyphs">Source: Pulsar TRAC/Audiense</tspan></text>
<text x="1783.34" y="1304.4" font-size="35.4" font-weight="700" fill="#3a3a42" textLength="157.37" lengthAdjust="spacingAndGlyphs" stroke="#3a3a42" stroke-width="1.3" stroke-linejoin="round">PULSAR</text>
</svg></body></html>
